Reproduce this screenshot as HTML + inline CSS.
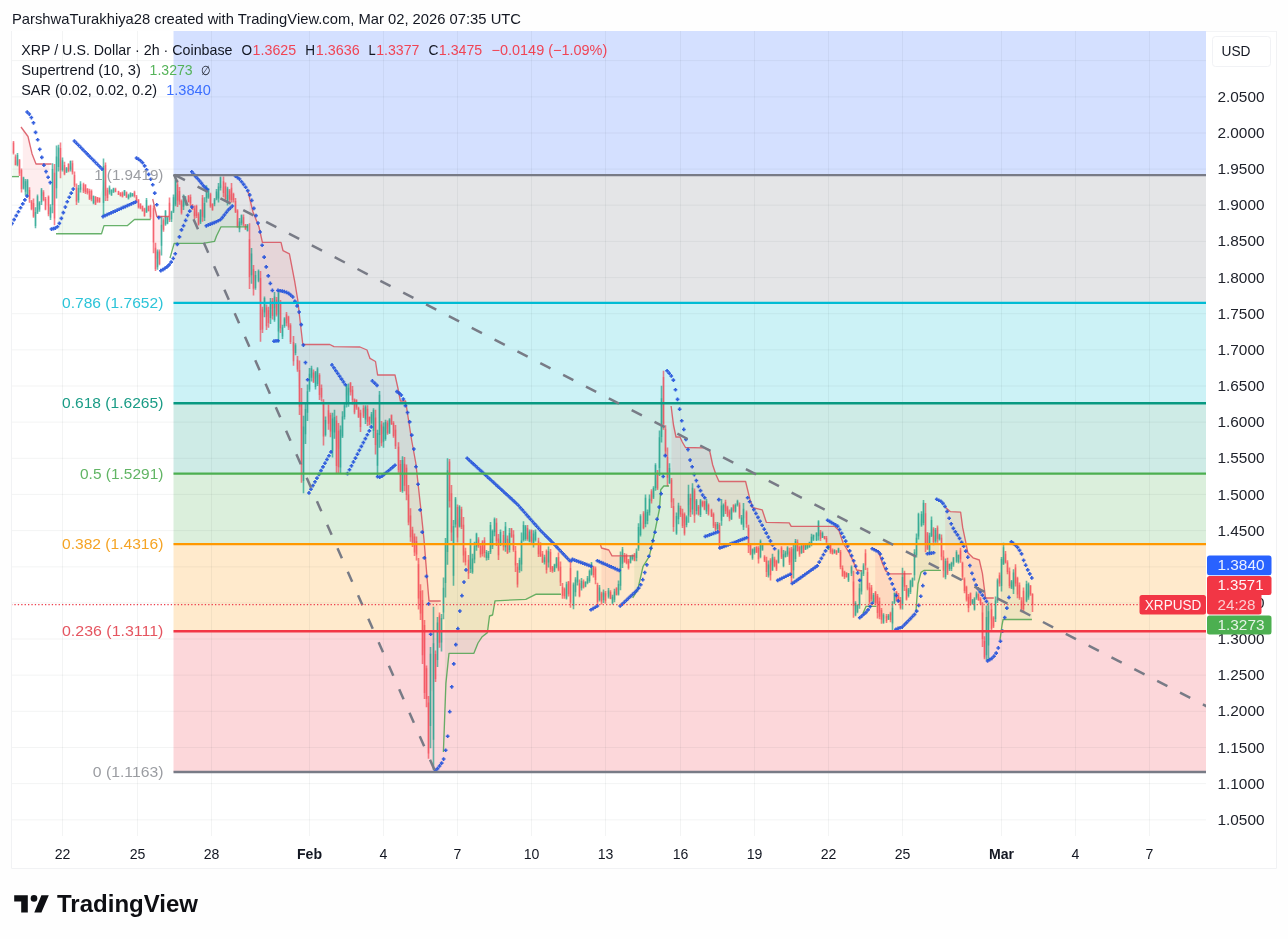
<!DOCTYPE html>
<html><head><meta charset="utf-8"><title>XRPUSD chart</title>
<style>html,body{margin:0;padding:0;background:#fefefe;}body{width:1288px;height:939px;position:relative;overflow:hidden;font-family:"Liberation Sans",sans-serif;}</style></head>
<body>
<svg width="1288" height="939" viewBox="0 0 1288 939" style="position:absolute;left:0;top:0;will-change:transform;font-family:'Liberation Sans',sans-serif">
<rect x="11" y="31" width="1265" height="837" fill="#ffffff"/>
<defs><clipPath id="pane"><rect x="11" y="31" width="1195" height="807"/></clipPath></defs>
<g clip-path="url(#pane)">
<rect x="173.5" y="31.00" width="1032.5" height="144.16" fill="#2962ff" fill-opacity="0.2"/>
<rect x="173.5" y="175.16" width="1032.5" height="127.75" fill="#787b86" fill-opacity="0.2"/>
<rect x="173.5" y="302.91" width="1032.5" height="100.28" fill="#00bcd4" fill-opacity="0.2"/>
<rect x="173.5" y="403.19" width="1032.5" height="70.42" fill="#089981" fill-opacity="0.2"/>
<rect x="173.5" y="473.61" width="1032.5" height="70.49" fill="#4caf50" fill-opacity="0.2"/>
<rect x="173.5" y="544.10" width="1032.5" height="87.12" fill="#ff9800" fill-opacity="0.2"/>
<rect x="173.5" y="631.22" width="1032.5" height="140.84" fill="#f23645" fill-opacity="0.2"/>
</g>
<path d="M62.5 31 V836 M137.5 31 V836 M211.5 31 V836 M309.5 31 V836 M383.5 31 V836 M457.5 31 V836 M531.5 31 V836 M605.5 31 V836 M680.5 31 V836 M754.5 31 V836 M828.5 31 V836 M902.5 31 V836 M1001.5 31 V836 M1075.5 31 V836 M1149.5 31 V836 M11 60.6 H1206 M11 96.8 H1206 M11 133.0 H1206 M11 169.1 H1206 M11 205.2 H1206 M11 241.4 H1206 M11 277.6 H1206 M11 313.7 H1206 M11 349.8 H1206 M11 386.0 H1206 M11 422.1 H1206 M11 458.3 H1206 M11 494.4 H1206 M11 530.6 H1206 M11 566.8 H1206 M11 602.9 H1206 M11 639.0 H1206 M11 675.2 H1206 M11 711.3 H1206 M11 747.5 H1206 M11 783.6 H1206 M11 819.8 H1206" stroke="#2a2e39" stroke-opacity="0.055" stroke-width="1" fill="none"/>
<g clip-path="url(#pane)">
<path d="M12.5 176.6 L14.6 176.6 L16.6 176.6 L18.7 176.6 L18.7 166.7 L16.6 159.8 L14.6 160.6 L12.5 147.9Z" fill="#4caf50" fill-opacity="0.09" stroke="none"/><path d="M57.8 233.7 L59.9 233.7 L61.9 233.7 L64.0 233.7 L66.0 233.7 L68.1 233.7 L70.2 233.7 L72.2 233.7 L74.3 233.7 L76.3 233.7 L78.4 233.7 L80.5 233.7 L82.5 233.7 L84.6 233.7 L86.6 233.7 L88.7 233.7 L90.7 233.7 L92.8 233.7 L94.9 233.7 L96.9 233.7 L99.0 233.7 L103.1 228.5 L105.2 225.6 L107.2 225.6 L109.3 225.6 L111.3 225.6 L113.4 225.6 L115.5 225.6 L117.5 225.6 L119.6 225.6 L121.6 225.6 L123.7 225.6 L125.7 225.6 L127.8 225.3 L129.9 223.5 L131.9 221.7 L134.0 219.9 L136.0 219.5 L138.1 219.5 L140.2 219.5 L142.2 219.5 L144.3 219.5 L146.3 219.5 L148.4 219.5 L150.5 219.5 L150.5 211.5 L148.4 208.5 L146.3 206.0 L144.3 212.3 L142.2 208.6 L140.2 206.0 L138.1 203.7 L136.0 198.9 L134.0 194.1 L131.9 195.0 L129.9 194.7 L127.8 196.8 L125.7 194.6 L123.7 192.7 L121.6 194.6 L119.6 194.3 L117.5 192.9 L115.5 190.3 L113.4 190.0 L111.3 192.4 L109.3 189.9 L107.2 193.9 L105.2 180.3 L103.1 184.6 L99.0 200.2 L96.9 199.4 L94.9 200.6 L92.8 199.5 L90.7 195.0 L88.7 194.9 L86.6 191.0 L84.6 188.4 L82.5 187.7 L80.5 186.7 L78.4 194.1 L76.3 194.5 L74.3 180.2 L72.2 167.7 L70.2 165.2 L68.1 167.5 L66.0 169.8 L64.0 169.7 L61.9 165.1 L59.9 159.1 L57.8 157.2Z" fill="#4caf50" fill-opacity="0.09" stroke="none"/><path d="M171.0 254.4 L173.1 247.2 L175.2 243.4 L177.2 243.4 L179.3 243.4 L181.3 243.4 L183.4 243.4 L185.5 243.4 L187.5 243.4 L189.6 243.4 L191.6 243.4 L193.7 243.4 L195.8 243.4 L197.8 243.4 L199.9 243.4 L201.9 243.4 L204.0 243.2 L206.1 242.8 L208.1 242.5 L210.2 242.1 L212.2 241.7 L214.3 241.4 L216.3 236.4 L218.4 232.1 L220.5 227.9 L222.5 226.8 L224.6 226.8 L226.6 226.8 L228.7 226.8 L230.8 226.8 L232.8 226.8 L234.9 226.8 L236.9 226.8 L239.0 226.8 L241.1 226.8 L243.1 226.8 L245.2 226.8 L247.2 226.8 L247.2 227.9 L245.2 226.9 L243.1 220.7 L241.1 219.2 L239.0 225.3 L236.9 218.4 L234.9 206.3 L232.8 197.1 L230.8 193.9 L228.7 195.1 L226.6 195.0 L224.6 192.6 L222.5 187.1 L220.5 182.7 L218.4 192.5 L216.3 195.1 L214.3 201.9 L212.2 206.9 L210.2 200.2 L208.1 194.1 L206.1 193.8 L204.0 210.4 L201.9 207.3 L199.9 216.3 L197.8 219.3 L195.8 211.0 L193.7 212.4 L191.6 207.1 L189.6 200.2 L187.5 198.9 L185.5 200.5 L183.4 201.3 L181.3 206.9 L179.3 196.2 L177.2 192.4 L175.2 192.3 L173.1 204.4 L171.0 215.3Z" fill="#4caf50" fill-opacity="0.09" stroke="none"/><path d="M444.9 711.0 L447.0 673.2 L449.0 653.3 L451.1 653.3 L453.1 653.3 L455.2 653.3 L457.2 653.3 L459.3 653.3 L461.4 653.3 L463.4 653.3 L465.5 653.3 L467.5 653.3 L469.6 653.3 L471.7 653.3 L473.7 653.3 L475.8 648.6 L477.8 643.4 L479.9 640.2 L482.0 637.1 L484.0 635.3 L486.1 633.6 L488.1 626.8 L490.2 615.8 L492.3 615.1 L494.3 604.9 L496.4 600.7 L498.4 600.6 L500.5 600.5 L502.5 600.4 L504.6 600.3 L506.7 600.2 L508.7 600.1 L510.8 600.0 L512.8 599.9 L514.9 599.8 L517.0 599.7 L519.0 599.6 L521.1 599.5 L523.1 599.4 L525.2 599.3 L527.3 598.6 L529.3 597.6 L531.4 596.6 L533.4 595.6 L535.5 594.5 L537.5 594.2 L539.6 594.2 L541.7 594.2 L543.7 594.2 L545.8 594.2 L547.8 594.2 L549.9 594.2 L552.0 594.2 L554.0 594.2 L556.1 594.2 L558.1 594.2 L560.2 594.2 L560.2 574.6 L558.1 563.4 L556.1 562.2 L554.0 567.6 L552.0 568.9 L549.9 560.8 L547.8 556.8 L545.8 560.5 L543.7 559.7 L541.7 557.9 L539.6 550.1 L537.5 547.5 L535.5 535.9 L533.4 538.8 L531.4 535.9 L529.3 536.5 L527.3 533.5 L525.2 532.7 L523.1 532.5 L521.1 552.4 L519.0 565.0 L517.0 575.6 L514.9 558.3 L512.8 542.2 L510.8 532.7 L508.7 541.5 L506.7 545.9 L504.6 536.8 L502.5 540.8 L500.5 538.5 L498.4 546.9 L496.4 531.9 L494.3 525.5 L492.3 538.7 L490.2 538.7 L488.1 555.4 L486.1 555.1 L484.0 546.7 L482.0 547.8 L479.9 550.2 L477.8 542.7 L475.8 540.3 L473.7 552.7 L471.7 565.4 L469.6 556.1 L467.5 566.7 L465.5 556.8 L463.4 540.1 L461.4 518.0 L459.3 516.4 L457.2 522.3 L455.2 511.5 L453.1 550.9 L451.1 512.9 L449.0 481.4 L447.0 511.0 L444.9 563.5Z" fill="#4caf50" fill-opacity="0.09" stroke="none"/><path d="M634.3 595.2 L636.4 591.8 L638.4 586.7 L640.5 577.6 L642.6 568.5 L644.6 564.0 L646.7 560.6 L648.7 557.2 L650.8 549.7 L652.9 540.7 L654.9 531.4 L657.0 521.3 L659.0 511.3 L661.1 489.3 L663.1 486.8 L665.2 486.0 L667.3 486.0 L667.3 467.4 L665.2 440.4 L663.1 400.4 L661.1 417.7 L659.0 452.6 L657.0 481.7 L654.9 476.4 L652.9 492.7 L650.8 496.2 L648.7 505.7 L646.7 516.4 L644.6 510.8 L642.6 520.7 L640.5 525.7 L638.4 537.9 L636.4 554.8 L634.3 557.4Z" fill="#4caf50" fill-opacity="0.09" stroke="none"/><path d="M864.9 608.9 L867.0 606.4 L869.0 606.4 L871.1 606.4 L873.2 606.4 L875.2 606.4 L875.2 597.6 L873.2 598.5 L871.1 593.5 L869.0 594.7 L867.0 580.2 L864.9 559.4Z" fill="#4caf50" fill-opacity="0.09" stroke="none"/><path d="M916.4 605.3 L918.5 582.0 L920.5 574.2 L922.6 571.4 L924.6 570.3 L926.7 570.3 L928.8 570.3 L930.8 570.3 L932.9 570.3 L934.9 570.3 L937.0 570.3 L939.1 570.3 L939.1 536.9 L937.0 533.1 L934.9 535.6 L932.9 535.3 L930.8 527.9 L928.8 542.9 L926.7 540.9 L924.6 528.8 L922.6 512.9 L920.5 519.8 L918.5 525.2 L916.4 546.5Z" fill="#4caf50" fill-opacity="0.09" stroke="none"/><path d="M1000.8 633.8 L1002.9 620.6 L1004.9 619.5 L1007.0 619.5 L1009.1 619.5 L1011.1 619.5 L1013.2 619.5 L1015.2 619.5 L1017.3 619.5 L1019.4 619.5 L1021.4 619.5 L1023.5 619.5 L1025.5 619.5 L1027.6 619.5 L1029.7 619.5 L1031.7 619.5 L1031.7 599.5 L1029.7 590.0 L1027.6 590.6 L1025.5 592.4 L1023.5 600.1 L1021.4 604.8 L1019.4 591.6 L1017.3 586.2 L1015.2 575.5 L1013.2 581.1 L1011.1 584.4 L1009.1 578.6 L1007.0 567.3 L1004.9 558.2 L1002.9 555.6 L1000.8 572.4Z" fill="#4caf50" fill-opacity="0.09" stroke="none"/><path d="M22.8 129.4 L24.9 132.2 L26.9 135.0 L29.0 140.7 L31.0 149.6 L33.1 156.5 L35.2 161.8 L37.2 164.0 L39.3 164.0 L41.3 164.0 L43.4 164.0 L45.4 164.0 L47.5 164.0 L49.6 164.0 L49.6 212.5 L47.5 205.5 L45.4 204.2 L43.4 196.1 L41.3 195.8 L39.3 206.0 L37.2 204.4 L35.2 218.9 L33.1 209.8 L31.0 205.3 L29.0 194.5 L26.9 187.8 L24.9 186.5 L22.8 183.1Z" fill="#f23645" fill-opacity="0.09" stroke="none"/><path d="M154.6 207.0 L156.6 215.8 L158.7 216.5 L160.8 216.5 L162.8 216.5 L164.9 216.5 L166.9 216.5 L169.0 216.5 L169.0 211.3 L166.9 220.5 L164.9 217.8 L162.8 224.9 L160.8 235.2 L158.7 257.7 L156.6 259.4 L154.6 258.3Z" fill="#f23645" fill-opacity="0.09" stroke="none"/><path d="M249.3 196.8 L251.3 205.2 L253.4 213.0 L255.5 218.2 L257.5 223.3 L259.6 229.6 L261.6 239.0 L263.7 242.4 L265.8 242.4 L267.8 242.4 L269.9 242.4 L271.9 242.4 L274.0 242.4 L276.1 242.4 L278.1 242.4 L280.2 242.4 L282.2 247.5 L284.3 251.3 L286.4 252.3 L288.4 253.3 L290.5 259.4 L292.5 270.0 L294.6 280.7 L296.6 293.1 L298.7 308.5 L300.8 326.7 L302.8 344.5 L304.9 344.5 L306.9 344.5 L309.0 344.5 L311.1 344.5 L313.1 344.5 L315.2 344.5 L317.2 344.5 L319.3 344.5 L321.4 344.5 L323.4 344.5 L325.5 344.5 L327.5 344.5 L329.6 344.5 L331.6 345.4 L333.7 346.5 L335.8 346.6 L337.8 346.7 L339.9 346.7 L341.9 346.7 L344.0 346.8 L346.1 346.8 L348.1 346.8 L350.2 346.8 L352.2 346.9 L354.3 346.9 L356.4 346.9 L358.4 347.0 L360.5 347.2 L362.5 348.1 L364.6 349.0 L366.7 349.9 L368.7 354.8 L370.8 358.8 L372.8 360.0 L374.9 361.2 L376.9 370.8 L379.0 375.0 L381.1 375.0 L383.1 375.0 L385.2 375.0 L387.2 375.0 L389.3 375.0 L391.4 375.0 L393.4 375.0 L395.5 377.2 L397.5 386.4 L399.6 396.8 L401.7 401.0 L403.7 401.0 L405.8 402.1 L407.8 415.5 L409.9 428.9 L411.9 441.9 L414.0 453.2 L416.1 465.5 L418.1 484.3 L420.2 503.1 L422.2 522.6 L424.3 543.4 L426.4 569.1 L428.4 594.1 L430.5 601.0 L432.5 601.0 L434.6 601.0 L436.7 601.0 L438.7 601.0 L438.7 629.1 L436.7 641.2 L434.6 666.4 L432.5 691.5 L430.5 689.9 L428.4 728.0 L426.4 683.6 L424.3 659.0 L422.2 627.6 L420.2 602.3 L418.1 581.3 L416.1 547.7 L414.0 544.5 L411.9 536.2 L409.9 526.3 L407.8 508.5 L405.8 481.4 L403.7 474.8 L401.7 475.4 L399.6 477.1 L397.5 458.4 L395.5 438.1 L393.4 429.5 L391.4 419.6 L389.3 426.1 L387.2 428.0 L385.2 430.5 L383.1 434.1 L381.1 433.8 L379.0 414.9 L376.9 449.4 L374.9 431.3 L372.8 420.5 L370.8 418.6 L368.7 420.9 L366.7 415.4 L364.6 413.1 L362.5 412.3 L360.5 419.8 L358.4 412.5 L356.4 403.7 L354.3 406.1 L352.2 394.8 L350.2 387.6 L348.1 395.4 L346.1 395.2 L344.0 411.4 L341.9 426.5 L339.9 448.6 L337.8 449.0 L335.8 443.2 L333.7 424.7 L331.6 434.6 L329.6 423.2 L327.5 416.9 L325.5 427.5 L323.4 419.8 L321.4 392.7 L319.3 385.0 L317.2 376.2 L315.2 379.7 L313.1 377.1 L311.1 373.0 L309.0 381.5 L306.9 402.0 L304.9 421.6 L302.8 453.8 L300.8 433.7 L298.7 388.3 L296.6 364.6 L294.6 349.1 L292.5 351.6 L290.5 333.6 L288.4 322.2 L286.4 318.8 L284.3 322.3 L282.2 332.0 L280.2 315.5 L278.1 312.4 L276.1 307.3 L274.0 308.3 L271.9 308.6 L269.9 309.6 L267.8 316.6 L265.8 317.0 L263.7 305.2 L261.6 319.4 L259.6 304.0 L257.5 275.8 L255.5 281.5 L253.4 279.0 L251.3 264.4 L249.3 258.2Z" fill="#f23645" fill-opacity="0.09" stroke="none"/><path d="M601.4 547.6 L603.4 548.5 L605.5 549.1 L607.6 549.7 L609.6 551.5 L611.7 555.2 L613.7 555.8 L615.8 555.8 L617.9 555.8 L619.9 555.8 L622.0 555.8 L624.0 555.8 L626.1 555.8 L628.1 555.8 L630.2 555.8 L632.3 555.8 L634.3 555.8 L634.3 557.4 L632.3 557.1 L630.2 559.4 L628.1 564.4 L626.1 559.4 L624.0 558.6 L622.0 556.6 L619.9 571.4 L617.9 589.2 L615.8 591.6 L613.7 595.6 L611.7 599.9 L609.6 595.4 L607.6 593.7 L605.5 597.0 L603.4 596.3 L601.4 597.4Z" fill="#f23645" fill-opacity="0.09" stroke="none"/><path d="M671.4 408.2 L673.4 424.5 L675.5 434.6 L677.6 437.0 L679.6 437.0 L681.7 440.7 L683.7 444.5 L685.8 447.5 L687.9 447.5 L689.9 447.6 L692.0 447.6 L694.0 447.6 L696.1 447.7 L698.2 447.7 L700.2 447.7 L702.3 447.8 L704.3 447.9 L706.4 448.8 L708.4 449.6 L710.5 454.7 L712.6 464.4 L714.6 470.7 L716.7 476.2 L718.7 480.9 L720.8 481.5 L722.9 481.5 L724.9 481.5 L727.0 481.5 L729.0 481.5 L731.1 481.5 L733.2 481.5 L735.2 481.5 L737.3 481.5 L739.3 481.5 L741.4 481.5 L743.4 481.5 L745.5 481.5 L747.6 489.6 L749.6 498.1 L751.7 504.4 L753.7 507.9 L755.8 508.4 L757.9 508.8 L759.9 509.3 L762.0 509.8 L764.0 515.4 L766.1 521.7 L768.2 522.3 L770.2 522.4 L772.3 522.5 L774.3 522.5 L776.4 522.6 L778.5 522.6 L780.5 522.7 L782.6 522.7 L784.6 522.8 L786.7 522.8 L788.7 522.9 L790.8 525.7 L792.9 526.4 L794.9 526.4 L797.0 526.4 L799.0 526.4 L801.1 526.4 L803.2 526.4 L805.2 526.4 L807.3 526.4 L809.3 526.4 L811.4 526.4 L813.5 526.4 L815.5 526.4 L817.6 526.4 L819.6 526.4 L821.7 526.4 L823.8 526.4 L825.8 526.4 L827.9 526.4 L829.9 526.4 L832.0 526.4 L834.0 526.4 L836.1 527.7 L838.2 529.8 L840.2 534.3 L842.3 540.5 L844.3 545.0 L846.4 548.3 L848.5 551.6 L850.5 555.7 L852.6 559.8 L854.6 565.0 L856.7 570.0 L858.8 570.4 L860.8 570.8 L860.8 581.9 L858.8 596.8 L856.7 608.4 L854.6 609.1 L852.6 593.8 L850.5 570.1 L848.5 577.0 L846.4 575.0 L844.3 574.4 L842.3 571.9 L840.2 559.5 L838.2 550.4 L836.1 552.6 L834.0 551.6 L832.0 552.0 L829.9 548.5 L827.9 546.8 L825.8 540.0 L823.8 537.7 L821.7 535.4 L819.6 535.8 L817.6 528.8 L815.5 536.7 L813.5 537.4 L811.4 540.4 L809.3 544.9 L807.3 546.2 L805.2 547.1 L803.2 548.5 L801.1 549.6 L799.0 550.7 L797.0 546.6 L794.9 550.0 L792.9 559.3 L790.8 563.4 L788.7 557.0 L786.7 551.0 L784.6 554.7 L782.6 560.0 L780.5 552.6 L778.5 556.6 L776.4 565.4 L774.3 562.3 L772.3 563.6 L770.2 567.7 L768.2 570.1 L766.1 566.3 L764.0 558.6 L762.0 546.8 L759.9 549.1 L757.9 553.6 L755.8 549.5 L753.7 550.6 L751.7 553.9 L749.6 549.7 L747.6 537.0 L745.5 518.2 L743.4 518.1 L741.4 520.5 L739.3 511.0 L737.3 503.1 L735.2 508.4 L733.2 508.2 L731.1 513.8 L729.0 515.1 L727.0 511.5 L724.9 506.6 L722.9 510.5 L720.8 513.1 L718.7 534.7 L716.7 526.5 L714.6 526.8 L712.6 520.0 L710.5 513.3 L708.4 509.6 L706.4 506.4 L704.3 505.4 L702.3 503.8 L700.2 507.7 L698.2 510.5 L696.1 505.7 L694.0 503.1 L692.0 498.7 L689.9 505.0 L687.9 504.7 L685.8 521.2 L683.7 523.8 L681.7 519.8 L679.6 511.2 L677.6 512.4 L675.5 524.9 L673.4 516.4 L671.4 491.0Z" fill="#f23645" fill-opacity="0.09" stroke="none"/><path d="M875.2 549.4 L877.3 550.6 L879.3 554.1 L881.4 560.2 L883.5 565.8 L885.5 570.6 L887.6 572.3 L889.6 573.6 L891.7 573.8 L893.8 573.8 L895.8 573.8 L897.9 573.8 L899.9 573.8 L902.0 573.8 L904.1 573.8 L906.1 573.8 L908.2 573.8 L910.2 573.8 L910.2 586.6 L908.2 592.7 L906.1 594.1 L904.1 579.8 L902.0 590.4 L899.9 603.9 L897.9 598.4 L895.8 596.1 L893.8 598.1 L891.7 615.7 L889.6 616.6 L887.6 617.5 L885.5 618.6 L883.5 618.8 L881.4 614.9 L879.3 609.0 L877.3 604.4 L875.2 597.6Z" fill="#f23645" fill-opacity="0.09" stroke="none"/><path d="M945.2 507.2 L947.3 509.0 L949.3 510.8 L951.4 511.7 L953.5 511.8 L955.5 511.9 L957.6 512.0 L959.6 512.1 L961.7 520.3 L963.8 532.7 L965.8 542.4 L967.9 552.8 L969.9 554.8 L972.0 556.8 L974.1 558.2 L976.1 558.9 L978.2 559.6 L980.2 564.0 L982.3 572.9 L984.4 588.8 L986.4 598.0 L988.5 598.0 L990.5 598.0 L992.6 598.0 L992.6 621.9 L990.5 619.0 L988.5 628.3 L986.4 636.1 L984.4 649.3 L982.3 625.9 L980.2 601.5 L978.2 597.3 L976.1 595.7 L974.1 604.0 L972.0 601.8 L969.9 598.5 L967.9 602.4 L965.8 593.4 L963.8 585.2 L961.7 570.0 L959.6 554.8 L957.6 558.5 L955.5 556.8 L953.5 561.4 L951.4 566.0 L949.3 566.5 L947.3 567.3 L945.2 569.2Z" fill="#f23645" fill-opacity="0.09" stroke="none"/>
<path d="M13.5 141.0V154.4M15.5 154.4V165.6M19.5 158.9V176.0M21.5 168.6V192.4M29.5 187.2V202.8M31.5 199.9V210.3M33.5 198.4V217.7M43.5 190.2V201.3M45.5 196.9V210.3M48.5 195.4V216.2M54.5 164.1V225.2M60.5 142.5V178.2M64.5 161.8V175.3M68.5 163.3V172.3M72.5 160.4V174.5M74.5 171.5V187.2M76.5 183.5V205.1M83.5 182.7V193.1M85.5 184.2V193.9M87.5 187.9V194.6M89.5 188.7V199.9M91.5 189.4V201.3M95.5 196.1V205.1M97.5 196.9V202.8M99.5 197.6V202.8M105.5 162.4V201.1M107.5 187.7V201.1M115.5 187.7V192.2M118.5 190.7V195.1M120.5 192.2V196.6M122.5 191.4V197.4M126.5 191.4V198.1M134.5 190.7V197.4M136.5 195.1V202.6M138.5 198.9V208.6M140.5 203.3V209.3M142.5 205.6V211.5M144.5 207.8V216.8M148.5 205.6V211.5M150.5 204.8V219.0M153.5 205.6V253.3M155.5 242.8V271.1M159.5 249.5V265.2M163.5 218.2V231.7M169.5 197.4V222.0M177.5 180.2V207.1M179.5 186.9V204.8M181.5 199.6V214.5M188.5 195.1V202.6M190.5 194.4V206.3M192.5 204.1V210.0M194.5 205.6V219.0M196.5 204.7V218.1M198.5 212.2V225.6M202.5 195.0V221.8M210.5 192.8V207.7M212.5 203.2V210.7M223.5 176.4V197.3M225.5 182.4V201.7M229.5 189.1V202.5M231.5 183.1V202.5M233.5 192.8V202.5M235.5 198.0V212.9M237.5 209.2V227.8M243.5 214.4V226.3M245.5 224.1V230.0M249.5 223.3V288.9M253.5 265.1V295.6M260.5 271.1V341.8M262.5 306.8V332.9M266.5 304.6V329.9M268.5 306.8V327.7M272.5 297.9V319.5M276.5 297.1V316.5M280.5 300.1V332.9M286.5 312.0V326.2M288.5 315.8V329.9M290.5 323.2V344.1M293.5 335.9V365.7M297.5 356.1V371.7M299.5 360.5V414.9M301.5 388.1V482.7M313.5 369.5V382.9M319.5 373.2V400.0M321.5 384.4V401.5M323.5 399.3V445.5M328.5 404.5V429.8M330.5 412.7V437.3M336.5 415.7V473.8M338.5 423.1V473.0M350.5 382.1V395.6M352.5 385.9V404.5M354.5 398.5V414.2M356.5 399.3V409.7M358.5 406.7V417.9M360.5 409.7V432.1M363.5 405.2V417.9M367.5 405.2V426.1M369.5 416.4V425.4M375.5 409.7V454.4M381.5 420.9V446.2M387.5 420.6V434.7M391.5 414.6V425.0M393.5 421.3V437.7M395.5 425.0V448.9M398.5 442.2V472.7M400.5 460.0V492.1M404.5 457.1V491.3M406.5 464.5V500.3M408.5 485.1V525.3M410.5 508.2V541.7M412.5 526.8V546.9M414.5 533.5V555.9M416.5 536.5V560.4M418.5 558.1V609.5M420.5 584.2V620.0M422.5 590.3V664.1M424.5 620.1V699.1M426.5 665.6V707.3M428.5 696.1V758.7M435.5 650.6V681.9M439.5 612.6V647.7M449.5 459.0V507.5M451.5 485.1V541.0M457.5 504.5V542.5M461.5 506.7V529.1M463.5 517.1V562.6M465.5 547.7V565.6M468.5 555.1V579.0M478.5 537.3V547.7M480.5 543.2V557.4M482.5 540.2V556.6M484.5 537.3V557.4M496.5 518.3V545.9M498.5 534.0V560.0M503.5 531.0V550.4M507.5 535.5V554.1M511.5 528.0V537.7M513.5 530.2V551.8M515.5 545.9V572.0M517.5 563.0V587.6M527.5 525.0V540.7M531.5 529.5V542.9M538.5 537.7V557.1M540.5 542.2V557.1M542.5 551.1V563.0M546.5 549.6V573.5M550.5 548.9V572.0M552.5 566.0V572.7M558.5 552.6V571.2M560.5 561.5V586.1M562.5 583.1V598.8M564.5 587.6V598.8M568.5 580.9V596.6M570.5 561.5V607.7M579.5 579.4V597.3M583.5 579.4V588.4M593.5 565.7V577.6M595.5 566.4V584.3M597.5 582.8V604.4M601.5 591.8V604.4M605.5 591.0V603.7M610.5 590.3V599.2M616.5 587.3V595.5M624.5 553.0V562.7M626.5 553.8V564.2M628.5 559.0V569.4M634.5 553.0V561.2M643.5 511.3V529.2M651.5 489.3V503.5M657.5 469.9V490.0M663.5 370.8V429.7M665.5 425.2V455.8M667.5 447.6V486.3M671.5 478.1V507.9M673.5 498.2V531.8M680.5 505.7V516.9M682.5 508.7V528.0M684.5 512.4V535.5M690.5 493.8V516.9M694.5 488.6V522.8M698.5 504.9V515.4M702.5 500.5V507.2M704.5 500.5V510.2M708.5 503.5V515.4M711.5 508.7V516.9M713.5 512.4V528.0M715.5 522.1V531.0M719.5 522.8V546.7M725.5 499.7V513.9M727.5 505.7V516.9M729.5 509.4V521.3M733.5 504.2V512.4M739.5 502.4V518.7M746.5 510.6V527.7M748.5 524.7V553.0M750.5 543.3V555.3M756.5 546.3V553.0M758.5 546.3V563.5M764.5 555.3V562.0M766.5 556.8V576.9M770.5 558.2V580.6M774.5 556.8V567.2M776.5 559.7V570.9M781.5 546.3V559.0M789.5 547.8V564.9M791.5 547.1V582.8M797.5 539.6V551.5M799.5 545.6V556.8M803.5 544.1V553.0M820.5 529.9V541.1M824.5 535.9V539.6M826.5 535.9V544.1M830.5 543.3V553.8M832.5 548.6V554.5M836.5 549.9V555.1M840.5 549.9V569.3M842.5 565.6V576.8M844.5 570.8V579.0M846.5 572.3V577.5M853.5 570.8V617.7M865.5 549.2V570.0M867.5 567.8V590.2M869.5 582.7V604.3M871.5 584.9V601.3M875.5 590.9V604.3M877.5 593.9V618.5M879.5 597.6V619.2M881.5 608.0V623.7M886.5 614.0V623.0M890.5 611.8V622.2M896.5 590.9V601.3M898.5 593.1V602.8M900.5 596.9V609.5M904.5 570.8V590.9M906.5 584.9V600.6M925.5 503.0V552.2M927.5 532.0V549.9M933.5 527.2V545.3M937.5 525.5V542.8M941.5 534.6V560.2M943.5 550.3V577.5M947.5 557.7V575.1M960.5 547.8V562.7M962.5 561.8V580.0M964.5 577.5V593.2M966.5 585.8V601.5M968.5 594.0V612.2M970.5 592.4V605.6M978.5 593.2V600.7M980.5 597.3V604.8M982.5 602.3V646.9M984.5 636.2V659.3M991.5 603.1V631.2M993.5 616.3V627.9M999.5 572.6V586.6M1005.5 551.1V563.5M1007.5 560.2V574.2M1009.5 567.6V588.3M1015.5 564.3V586.6M1017.5 576.7V598.2M1019.5 582.5V599.8M1021.5 597.3V612.2M1023.5 587.4V611.4M1030.5 585.0V595.7M1032.5 593.3V612.0" stroke="#f23645" stroke-width="1.6" stroke-opacity="0.62" fill="none"/><path d="M17.5 152.9V166.3M23.5 176.8V189.4M25.5 179.0V195.4M27.5 179.0V196.9M35.5 207.3V228.2M37.5 194.6V214.0M39.5 201.3V211.8M41.5 187.9V205.1M50.5 204.3V220.0M52.5 163.3V213.3M56.5 145.5V198.4M58.5 144.7V171.5M62.5 157.4V171.5M66.5 167.1V173.0M70.5 160.4V171.5M78.5 184.9V202.8M80.5 181.2V192.4M93.5 195.4V204.3M103.5 158.6V216.0M109.5 185.5V194.4M111.5 189.2V195.9M113.5 187.7V192.9M124.5 189.9V195.9M128.5 193.7V199.6M130.5 192.2V197.4M132.5 192.9V196.6M146.5 198.1V213.0M157.5 249.5V269.7M161.5 216.0V255.5M165.5 210.0V225.7M167.5 216.8V224.2M171.5 210.8V222.0M173.5 194.4V213.0M175.5 175.0V206.3M183.5 194.4V210.0M185.5 195.9V205.6M200.5 209.2V224.1M204.5 197.3V221.1M206.5 185.3V202.5M208.5 188.3V198.7M214.5 198.0V206.2M216.5 189.1V200.2M218.5 183.1V202.5M220.5 176.4V190.6M227.5 186.8V205.5M239.5 218.1V232.3M241.5 214.4V225.6M247.5 224.1V231.5M251.5 247.9V283.7M255.5 271.1V289.7M258.5 269.5V282.2M264.5 296.4V317.3M270.5 297.9V324.0M274.5 291.9V321.7M278.5 290.4V342.6M282.5 324.7V338.9M284.5 317.3V327.7M295.5 343.3V355.3M303.5 415.7V493.2M305.5 403.0V444.0M307.5 384.4V420.9M309.5 368.0V391.8M311.5 365.7V381.4M315.5 371.0V389.6M317.5 367.2V385.9M325.5 416.4V436.5M332.5 412.7V457.4M334.5 409.7V438.8M340.5 425.4V473.0M342.5 411.2V438.0M344.5 403.0V419.4M346.5 384.4V407.5M348.5 383.6V406.7M365.5 405.2V423.9M371.5 411.9V424.6M373.5 408.2V438.0M377.5 429.8V476.0M379.5 391.1V447.7M383.5 422.4V447.7M385.5 419.8V440.7M389.5 418.3V434.0M402.5 456.3V492.8M430.5 646.9V748.3M433.5 606.7V769.9M437.5 617.1V667.0M441.5 614.1V651.4M443.5 577.5V619.2M445.5 538.0V597.6M447.5 458.3V564.8M453.5 520.1V585.7M455.5 497.0V527.6M459.5 505.2V527.6M470.5 538.7V573.0M472.5 553.7V573.8M474.5 541.7V563.3M476.5 532.8V550.7M486.5 549.9V560.4M488.5 551.0V559.9M490.5 522.0V554.1M492.5 529.5V548.9M494.5 517.6V536.2M500.5 529.5V545.9M505.5 522.0V551.8M509.5 528.0V552.6M519.5 557.8V572.7M521.5 532.5V571.2M523.5 521.3V541.4M525.5 525.0V540.7M529.5 529.5V542.2M533.5 530.2V547.4M535.5 529.5V541.4M544.5 554.8V564.5M548.5 546.6V567.5M554.5 563.8V572.0M556.5 557.1V568.2M566.5 581.7V599.5M573.5 582.4V609.2M575.5 577.2V596.6M577.5 570.5V585.4M581.5 577.9V590.6M585.5 581.3V587.3M587.5 576.1V584.3M589.5 569.4V582.8M591.5 562.0V575.4M599.5 585.1V601.5M603.5 589.5V603.0M608.5 588.0V598.5M612.5 594.8V604.4M614.5 588.8V602.2M618.5 580.6V595.5M620.5 551.5V590.3M622.5 547.1V567.9M630.5 555.3V563.5M632.5 554.5V560.5M636.5 548.6V561.2M638.5 523.2V550.8M640.5 514.3V536.6M645.5 494.5V527.3M647.5 509.4V524.3M649.5 494.5V515.4M653.5 486.3V499.0M655.5 463.2V490.8M659.5 430.4V475.9M661.5 385.7V442.4M669.5 463.2V484.1M676.5 512.4V534.8M678.5 502.7V524.3M686.5 515.4V527.3M688.5 484.8V522.8M692.5 483.3V514.6M696.5 499.0V514.6M700.5 499.0V516.9M706.5 499.0V513.9M717.5 522.1V530.3M721.5 499.0V525.8M723.5 503.5V516.9M731.5 507.2V519.9M735.5 503.5V512.4M737.5 499.7V506.4M741.5 515.0V524.7M743.5 503.1V529.9M752.5 548.6V559.7M754.5 547.1V554.5M760.5 539.6V558.2M762.5 543.3V550.8M768.5 560.5V577.6M772.5 553.8V570.9M778.5 549.3V563.5M783.5 550.0V567.2M785.5 550.8V557.5M787.5 546.3V556.8M793.5 544.1V578.4M795.5 538.9V562.0M801.5 544.1V553.8M805.5 543.3V550.0M807.5 543.3V549.3M809.5 541.8V547.8M811.5 533.7V546.3M813.5 534.4V541.1M816.5 532.2V541.1M818.5 520.2V540.4M822.5 531.4V538.1M828.5 543.3V550.0M834.5 549.3V553.8M838.5 547.7V552.9M848.5 573.0V582.0M851.5 565.6V576.0M855.5 601.3V616.2M857.5 604.3V613.3M859.5 583.5V608.8M861.5 570.0V594.6M863.5 563.3V576.0M873.5 593.1V602.8M883.5 613.3V623.7M888.5 614.0V620.0M892.5 601.3V630.4M894.5 592.4V604.3M902.5 567.8V609.5M908.5 587.9V597.6M910.5 579.7V593.9M912.5 577.5V587.2M914.5 549.2V580.5M916.5 533.5V557.4M918.5 512.7V539.5M921.5 511.2V526.8M923.5 500.0V525.3M929.5 532.8V553.7M931.5 516.4V537.1M935.5 528.0V542.8M939.5 533.8V540.4M945.5 558.5V579.2M949.5 563.5V570.9M951.5 561.8V570.9M953.5 556.9V566.8M956.5 550.3V562.7M958.5 554.4V563.5M972.5 599.0V604.8M974.5 597.3V610.6M976.5 591.6V599.8M986.5 605.6V660.4M988.5 602.5V660.6M995.5 596.5V622.1M997.5 578.4V603.1M1001.5 556.9V591.6M1003.5 542.8V565.1M1011.5 580.0V589.1M1013.5 569.3V594.0M1026.5 580.8V602.3M1028.5 582.5V599.8" stroke="#089981" stroke-width="1.6" stroke-opacity="0.62" fill="none"/><path d="M13.5 142.5V153.3M15.5 156.4V164.9M19.5 159.9V173.4M21.5 169.9V189.1M29.5 189.9V199.1M31.5 201.6V208.9M33.5 203.1V216.6M43.5 192.2V199.9M45.5 199.0V209.4M48.5 196.7V214.3M54.5 172.7V218.5M60.5 148.0V170.2M64.5 165.1V174.3M68.5 164.1V171.0M72.5 163.2V172.2M74.5 175.1V185.4M76.5 187.5V201.4M83.5 184.2V191.2M85.5 184.8V192.0M87.5 189.1V193.0M89.5 191.1V198.7M91.5 190.9V199.2M95.5 196.9V204.4M97.5 197.2V201.6M99.5 198.0V202.3M105.5 164.9V195.7M107.5 189.8V198.1M115.5 188.8V191.8M118.5 191.1V194.7M120.5 192.6V196.0M122.5 192.4V196.8M126.5 192.2V197.0M134.5 192.2V196.0M136.5 196.8V201.0M138.5 200.1V207.3M140.5 203.8V208.2M142.5 205.9V211.2M144.5 208.6V216.0M148.5 205.9V211.1M150.5 205.8V217.2M153.5 208.2V242.5M155.5 247.7V268.9M159.5 251.5V264.0M163.5 220.2V229.7M169.5 202.7V219.9M177.5 184.4V200.5M179.5 190.9V201.4M181.5 201.1V212.7M188.5 196.0V201.9M190.5 196.9V203.4M192.5 205.4V208.8M194.5 208.4V216.3M196.5 206.0V216.1M198.5 213.8V224.8M202.5 197.8V216.8M210.5 194.2V206.3M212.5 203.9V210.0M223.5 181.2V193.0M225.5 186.2V198.9M229.5 190.6V199.7M231.5 187.8V200.0M233.5 194.0V200.2M235.5 200.9V211.7M237.5 210.6V226.3M243.5 217.3V224.2M245.5 224.8V229.1M249.5 239.3V277.1M253.5 269.2V288.8M260.5 278.0V330.0M262.5 309.5V329.4M266.5 307.6V326.3M268.5 310.3V322.9M272.5 301.1V316.1M276.5 299.8V314.8M280.5 302.9V328.2M286.5 314.3V323.3M288.5 316.8V327.6M290.5 325.3V341.9M293.5 342.0V361.2M297.5 359.7V369.5M299.5 369.9V406.7M301.5 402.5V464.9M313.5 372.4V381.8M319.5 374.9V395.1M321.5 387.9V397.6M323.5 403.0V436.6M328.5 410.2V423.7M330.5 415.0V431.4M336.5 420.5V465.9M338.5 430.8V467.2M350.5 383.0V392.2M352.5 389.7V399.9M354.5 399.6V412.6M356.5 399.9V407.6M358.5 407.9V417.1M360.5 412.7V426.9M363.5 407.9V416.6M367.5 408.7V422.1M369.5 417.0V424.8M375.5 417.6V445.0M381.5 424.5V443.2M387.5 422.8V433.3M391.5 415.2V424.1M393.5 423.1V435.9M395.5 429.8V446.3M398.5 446.7V470.1M400.5 463.9V490.4M404.5 463.8V485.8M406.5 467.7V495.1M408.5 494.6V522.5M410.5 515.4V537.2M412.5 529.8V542.6M414.5 536.4V552.5M416.5 541.0V554.5M418.5 564.2V598.4M420.5 591.0V613.6M422.5 600.0V655.2M424.5 624.9V693.1M426.5 668.2V699.0M428.5 702.4V753.5M435.5 654.0V678.9M439.5 615.5V642.8M449.5 461.4V501.3M451.5 493.2V532.6M457.5 507.1V537.5M461.5 509.2V526.9M463.5 524.7V555.5M465.5 551.3V562.3M468.5 559.7V573.6M478.5 539.6V545.9M480.5 546.0V554.4M482.5 541.5V554.1M484.5 540.3V553.0M496.5 522.8V541.0M498.5 538.5V555.2M503.5 535.0V546.5M507.5 538.8V552.9M511.5 528.6V536.7M513.5 534.5V549.9M515.5 551.0V565.6M517.5 566.7V584.5M527.5 528.1V538.9M531.5 530.3V541.5M538.5 540.7V554.3M540.5 544.3V556.0M542.5 553.8V562.0M546.5 550.9V570.1M550.5 552.1V569.6M552.5 566.6V571.1M558.5 557.1V569.8M560.5 566.8V582.4M562.5 586.7V595.8M564.5 588.7V596.2M568.5 581.7V594.2M570.5 568.0V602.6M579.5 583.3V596.0M583.5 581.5V587.4M593.5 566.5V575.0M595.5 568.4V580.1M597.5 585.0V602.2M601.5 593.4V601.4M605.5 593.3V600.7M610.5 592.0V598.7M616.5 588.2V595.0M624.5 555.4V561.7M626.5 555.7V563.1M628.5 560.7V568.1M634.5 554.3V560.5M643.5 513.4V528.0M651.5 491.2V501.3M657.5 474.8V488.5M663.5 377.0V423.8M665.5 429.2V451.5M667.5 456.9V477.8M671.5 479.8V502.2M673.5 505.9V526.9M680.5 508.1V514.4M682.5 513.4V526.1M684.5 514.1V533.6M690.5 497.9V512.2M694.5 490.5V515.8M698.5 506.8V514.2M702.5 501.7V505.9M704.5 501.2V509.5M708.5 505.0V514.3M711.5 510.1V516.4M713.5 514.1V525.8M715.5 524.2V529.4M719.5 525.1V544.3M725.5 501.9V511.3M727.5 507.2V515.7M729.5 511.6V518.5M733.5 505.2V511.3M739.5 504.8V517.3M746.5 512.2V524.2M748.5 527.8V546.2M750.5 545.1V554.2M756.5 546.9V552.2M758.5 547.9V559.3M764.5 556.8V560.4M766.5 560.7V571.9M770.5 560.2V575.3M774.5 558.7V565.9M776.5 561.1V569.6M781.5 547.7V557.5M789.5 551.5V562.6M791.5 549.2V577.7M797.5 542.3V550.9M799.5 547.1V554.4M803.5 544.6V552.5M820.5 532.5V539.1M824.5 536.2V539.1M826.5 537.9V542.1M830.5 544.8V552.2M832.5 550.0V554.0M836.5 551.0V554.1M840.5 552.1V566.9M842.5 567.9V576.0M844.5 571.5V577.3M846.5 572.8V577.2M853.5 581.4V606.1M865.5 553.3V565.5M867.5 571.9V588.5M869.5 587.4V602.0M871.5 587.6V599.3M875.5 592.2V603.0M877.5 595.9V612.9M879.5 601.2V616.7M881.5 610.1V619.8M886.5 615.9V621.3M890.5 613.3V620.0M896.5 591.7V600.4M898.5 595.5V601.2M900.5 599.9V608.0M904.5 572.8V586.8M906.5 588.7V599.5M925.5 513.3V544.3M927.5 533.2V548.7M933.5 528.7V541.9M937.5 527.4V538.7M941.5 537.7V556.8M943.5 556.4V570.7M947.5 561.1V573.5M960.5 550.5V559.2M962.5 563.1V576.8M964.5 579.5V590.9M966.5 587.0V599.8M968.5 596.8V607.9M970.5 593.3V603.7M978.5 594.3V600.2M980.5 599.1V603.8M982.5 612.6V639.1M984.5 641.1V657.4M991.5 609.2V628.8M993.5 617.4V626.4M999.5 575.3V583.4M1005.5 553.8V562.6M1007.5 562.6V572.0M1009.5 571.2V586.0M1015.5 567.4V583.5M1017.5 577.9V594.4M1019.5 585.1V598.1M1021.5 600.4V609.2M1023.5 590.8V609.3M1030.5 585.7V594.2M1032.5 594.0V605.0" stroke="#f23645" stroke-width="1.6" stroke-opacity="0.4" fill="none"/><path d="M17.5 155.0V164.7M23.5 177.6V188.6M25.5 181.2V191.8M27.5 180.3V195.2M35.5 211.9V225.9M37.5 196.2V212.6M39.5 202.5V209.5M41.5 189.4V202.2M50.5 207.2V217.8M52.5 169.0V204.9M56.5 156.5V188.3M58.5 147.4V167.1M62.5 160.2V170.0M66.5 167.9V171.8M70.5 161.0V169.5M78.5 187.9V200.3M80.5 183.7V189.7M93.5 195.9V203.0M103.5 166.0V203.1M109.5 187.4V192.4M111.5 189.9V195.0M113.5 188.3V191.7M124.5 190.2V195.1M128.5 195.1V198.5M130.5 193.0V196.5M132.5 193.6V196.4M146.5 199.9V212.1M157.5 251.6V267.3M161.5 224.7V245.7M165.5 211.1V224.6M167.5 217.6V223.4M171.5 211.4V219.3M173.5 197.3V211.5M175.5 180.0V204.6M183.5 195.7V206.8M185.5 197.4V203.6M200.5 210.0V222.5M204.5 203.0V217.8M206.5 189.4V198.2M208.5 190.8V197.5M214.5 199.4V204.3M216.5 191.5V198.6M218.5 186.6V198.4M220.5 177.3V188.0M227.5 188.4V201.6M239.5 221.4V229.3M241.5 215.3V223.2M247.5 224.7V231.1M251.5 253.5V275.2M255.5 275.1V288.0M258.5 270.8V280.8M264.5 298.0V312.4M270.5 301.4V317.9M274.5 296.5V320.1M278.5 293.1V331.6M282.5 327.5V336.6M284.5 318.5V326.1M295.5 345.3V352.9M303.5 426.6V481.0M305.5 409.0V434.2M307.5 391.3V412.7M309.5 373.7V389.4M311.5 368.3V377.7M315.5 372.3V387.0M317.5 368.4V384.0M325.5 420.1V435.0M332.5 418.5V450.8M334.5 416.9V432.5M340.5 429.6V467.6M342.5 416.4V436.6M344.5 405.6V417.1M346.5 385.6V404.8M348.5 387.7V403.2M365.5 406.7V419.5M371.5 414.3V422.9M373.5 410.1V430.9M377.5 432.9V465.8M379.5 394.7V435.1M383.5 426.4V441.8M385.5 422.0V439.1M389.5 419.4V432.7M402.5 460.0V490.9M430.5 653.7V726.1M433.5 643.3V739.8M437.5 622.5V660.0M441.5 618.0V642.4M443.5 587.7V612.6M445.5 543.9V583.1M447.5 470.2V551.9M453.5 526.0V575.8M455.5 498.6V524.4M459.5 506.5V526.4M470.5 543.1V569.1M472.5 558.6V572.2M474.5 545.9V559.5M476.5 533.8V546.8M486.5 552.1V558.1M488.5 553.0V557.9M490.5 525.1V552.3M492.5 531.0V546.5M494.5 518.9V532.2M500.5 531.9V545.1M505.5 526.5V547.2M509.5 532.9V550.1M519.5 560.0V569.9M521.5 540.4V564.5M523.5 524.9V540.1M525.5 526.3V539.1M529.5 531.6V541.5M533.5 533.4V544.1M535.5 531.7V540.1M544.5 557.2V562.2M548.5 551.1V562.4M554.5 564.5V570.6M556.5 557.9V566.5M566.5 584.3V598.6M573.5 584.5V606.0M575.5 579.4V592.3M577.5 571.2V582.4M581.5 580.9V588.2M585.5 582.1V586.5M587.5 578.2V582.9M589.5 571.1V581.0M591.5 563.4V574.6M599.5 587.6V600.0M603.5 592.6V600.1M608.5 590.5V596.8M612.5 596.7V603.1M614.5 591.5V599.8M618.5 584.1V594.4M620.5 557.1V585.7M622.5 549.3V563.8M630.5 555.9V562.8M632.5 555.1V559.1M636.5 551.5V558.1M638.5 527.1V548.6M640.5 516.3V535.1M645.5 497.7V524.0M647.5 511.9V520.9M649.5 498.7V512.6M653.5 487.9V497.5M655.5 464.9V487.9M659.5 437.3V467.9M661.5 398.3V437.1M669.5 467.9V482.9M676.5 516.1V533.6M678.5 505.5V519.2M686.5 517.2V525.1M688.5 493.9V515.4M692.5 487.8V509.6M696.5 500.5V511.0M700.5 500.3V515.1M706.5 501.3V511.4M717.5 523.9V529.1M721.5 505.5V520.7M723.5 505.0V516.1M731.5 508.4V519.1M735.5 505.1V511.6M737.5 501.1V505.1M741.5 517.4V523.6M743.5 508.8V527.3M752.5 549.6V558.2M754.5 548.4V552.7M760.5 541.1V557.1M762.5 543.8V549.8M768.5 564.5V575.6M772.5 557.2V569.9M778.5 550.5V562.7M783.5 554.2V565.9M785.5 552.4V556.9M787.5 547.6V554.5M793.5 548.4V570.3M795.5 540.9V559.1M801.5 546.1V553.2M805.5 544.9V549.4M807.5 544.5V547.9M809.5 542.6V547.2M811.5 536.7V544.1M813.5 535.1V539.8M816.5 533.2V540.2M818.5 521.3V536.3M822.5 533.0V537.8M828.5 544.2V549.4M834.5 550.2V552.9M838.5 548.6V552.3M848.5 573.5V580.5M851.5 566.8V573.4M855.5 602.9V615.2M857.5 604.9V611.9M859.5 588.3V605.3M861.5 572.4V591.4M863.5 565.5V573.7M873.5 595.1V602.0M883.5 614.8V622.7M888.5 615.5V619.6M892.5 607.7V623.6M894.5 593.1V603.0M902.5 577.1V603.7M908.5 589.6V595.9M910.5 581.1V592.1M912.5 578.3V586.3M914.5 552.3V575.2M916.5 537.8V555.2M918.5 514.1V536.4M921.5 514.1V525.5M923.5 502.8V523.0M929.5 535.5V550.3M931.5 520.1V535.7M935.5 529.9V541.3M939.5 534.5V539.3M945.5 561.1V577.3M949.5 563.9V569.2M951.5 563.1V569.0M953.5 558.2V564.6M956.5 552.0V561.6M958.5 554.9V562.0M972.5 600.2V603.4M974.5 598.5V609.6M976.5 593.5V597.8M986.5 617.0V655.3M988.5 611.3V645.4M995.5 600.5V618.9M997.5 580.2V600.7M1001.5 558.9V585.9M1003.5 547.3V563.9M1011.5 581.2V587.6M1013.5 572.6V589.5M1026.5 583.9V600.8M1028.5 583.8V597.5" stroke="#089981" stroke-width="1.6" stroke-opacity="0.4" fill="none"/>
<path d="M11.0 176.6 L19.0 176.6" fill="none" stroke="#48a14c" stroke-width="1.35" stroke-opacity="0.82" stroke-linejoin="round"/><path d="M56.0 233.7 L101.5 233.7 L104.0 225.6 L127.5 225.6 L134.5 219.5 L150.7 219.5" fill="none" stroke="#48a14c" stroke-width="1.35" stroke-opacity="0.82" stroke-linejoin="round"/><path d="M170.0 258.0 L174.2 243.4 L203.0 243.4 L214.6 241.3 L216.5 236.0 L221.0 226.8 L248.0 226.8" fill="none" stroke="#48a14c" stroke-width="1.35" stroke-opacity="0.82" stroke-linejoin="round"/><path d="M443.4 752.0 L445.9 683.4 L449.0 653.3 L473.9 653.3 L478.0 643.0 L482.2 636.7 L487.4 632.6 L489.5 616.0 L492.6 615.0 L495.0 600.8 L525.8 599.3 L536.2 594.2 L561.0 594.2" fill="none" stroke="#48a14c" stroke-width="1.35" stroke-opacity="0.82" stroke-linejoin="round"/><path d="M632.7 597.8 L637.8 589.5 L643.0 566.6 L649.3 556.3 L654.5 533.4 L659.6 508.5 L660.7 489.8 L663.8 486.0 L669.0 486.0" fill="none" stroke="#48a14c" stroke-width="1.35" stroke-opacity="0.82" stroke-linejoin="round"/><path d="M862.9 613.6 L866.0 606.4 L876.4 606.4" fill="none" stroke="#48a14c" stroke-width="1.35" stroke-opacity="0.82" stroke-linejoin="round"/><path d="M916.0 610.8 L918.0 583.8 L921.0 572.4 L924.3 570.3 L940.9 570.3" fill="none" stroke="#48a14c" stroke-width="1.35" stroke-opacity="0.82" stroke-linejoin="round"/><path d="M1000.0 639.8 L1002.0 625.3 L1003.1 619.5 L1031.9 619.5" fill="none" stroke="#48a14c" stroke-width="1.35" stroke-opacity="0.82" stroke-linejoin="round"/><path d="M21.0 127.0 L28.0 136.5 L32.0 153.7 L36.0 164.0 L51.5 164.0" fill="none" stroke="#d84a57" stroke-width="1.35" stroke-opacity="0.82" stroke-linejoin="round"/><path d="M152.7 199.0 L156.8 216.5 L169.0 216.5" fill="none" stroke="#d84a57" stroke-width="1.35" stroke-opacity="0.82" stroke-linejoin="round"/><path d="M248.0 191.5 L253.0 212.0 L259.0 227.0 L262.4 242.4 L281.0 242.4 L283.0 250.7 L289.4 253.8 L294.6 280.8 L297.7 299.5 L300.0 320.0 L302.8 344.5 L329.8 344.5 L334.0 346.6 L360.0 347.0 L367.0 350.0 L370.0 358.4 L375.5 361.5 L377.6 375.0 L395.0 375.0 L398.0 388.5 L400.4 401.0 L405.6 401.0 L411.6 440.0 L415.8 463.0 L421.0 510.6 L424.0 539.6 L427.0 577.0 L429.0 601.0 L440.7 601.0" fill="none" stroke="#d84a57" stroke-width="1.35" stroke-opacity="0.82" stroke-linejoin="round"/><path d="M600.5 544.8 L601.5 548.0 L608.8 550.0 L612.0 555.8 L634.7 555.8" fill="none" stroke="#d84a57" stroke-width="1.35" stroke-opacity="0.82" stroke-linejoin="round"/><path d="M671.1 406.0 L673.5 425.0 L676.0 437.0 L680.0 437.0 L682.3 442.0 L685.5 447.5 L704.0 447.8 L709.5 450.0 L712.7 465.0 L716.0 474.7 L719.0 481.5 L745.6 481.5 L749.7 498.4 L752.8 507.7 L762.2 509.8 L766.3 522.3 L789.2 522.9 L791.2 526.4 L834.8 526.4 L839.0 530.6 L843.1 543.0 L848.3 551.3 L852.5 559.6 L856.6 570.0 L861.8 571.0" fill="none" stroke="#d84a57" stroke-width="1.35" stroke-opacity="0.82" stroke-linejoin="round"/><path d="M873.2 548.2 L878.4 551.3 L882.6 563.8 L885.7 571.0 L889.9 573.8 L911.8 573.8" fill="none" stroke="#d84a57" stroke-width="1.35" stroke-opacity="0.82" stroke-linejoin="round"/><path d="M945.0 507.0 L950.2 511.6 L960.6 512.2 L962.7 527.7 L965.8 542.3 L967.8 552.7 L973.0 557.8 L979.3 560.0 L982.4 573.4 L984.5 590.0 L985.5 598.0 L993.8 598.0" fill="none" stroke="#d84a57" stroke-width="1.35" stroke-opacity="0.82" stroke-linejoin="round"/><path d="M10.2 223.5h3.7M12.0 221.7v3.7M12.3 219.6h3.7M14.1 217.7v3.7M14.4 215.6h3.7M16.3 213.8v3.7M16.6 211.7h3.7M18.4 209.9v3.7M18.7 207.8h3.7M20.6 205.9v3.7M20.9 203.9h3.7M22.7 202.0v3.7M23.0 199.9h3.7M24.9 198.1v3.7M25.1 196.0h3.7M27.0 194.2v3.7M25.3 112.0h3.7M27.2 110.2v3.7M27.4 114.0h3.7M29.3 112.2v3.7M29.5 117.5h3.7M31.4 115.7v3.7M31.6 122.8h3.7M33.5 121.0v3.7M33.7 132.4h3.7M35.6 130.6v3.7M35.8 139.8h3.7M37.7 137.9v3.7M37.9 149.3h3.7M39.7 147.5v3.7M40.0 157.4h3.7M41.8 155.6v3.7M42.1 165.2h3.7M43.9 163.3v3.7M44.2 171.5h3.7M46.0 169.7v3.7M46.3 177.3h3.7M48.1 175.4v3.7M48.4 182.5h3.7M50.2 180.7v3.7M49.6 229.0h3.7M51.5 227.2v3.7M51.6 228.6h3.7M53.5 226.8v3.7M53.6 228.0h3.7M55.4 226.2v3.7M55.6 226.7h3.7M57.4 224.9v3.7M57.5 223.4h3.7M59.4 221.6v3.7M59.5 218.4h3.7M61.4 216.5v3.7M61.5 212.6h3.7M63.3 210.7v3.7M63.5 207.0h3.7M65.3 205.2v3.7M65.4 201.8h3.7M67.3 199.9v3.7M67.4 197.2h3.7M69.3 195.4v3.7M69.4 193.1h3.7M71.2 191.3v3.7M71.4 189.0h3.7M73.2 187.2v3.7M72.6 141.0h3.7M74.4 139.2v3.7M74.7 143.2h3.7M76.5 141.3v3.7M76.8 145.3h3.7M78.6 143.5v3.7M78.9 147.5h3.7M80.8 145.6v3.7M81.0 149.6h3.7M82.9 147.8v3.7M83.2 151.8h3.7M85.0 149.9v3.7M85.3 153.9h3.7M87.1 152.1v3.7M87.4 156.1h3.7M89.3 154.2v3.7M89.5 158.2h3.7M91.4 156.4v3.7M91.7 160.4h3.7M93.5 158.5v3.7M93.8 162.5h3.7M95.6 160.7v3.7M95.9 164.7h3.7M97.8 162.8v3.7M98.0 166.8h3.7M99.9 165.0v3.7M100.2 169.0h3.7M102.0 167.2v3.7M101.2 216.5h3.7M103.0 214.7v3.7M103.2 215.6h3.7M105.0 213.7v3.7M105.2 214.7h3.7M107.1 212.8v3.7M107.2 213.8h3.7M109.1 211.9v3.7M109.3 212.9h3.7M111.1 211.0v3.7M111.3 212.0h3.7M113.2 210.1v3.7M113.3 211.1h3.7M115.2 209.2v3.7M115.4 210.2h3.7M117.2 208.3v3.7M117.4 209.2h3.7M119.2 207.4v3.7M119.4 208.3h3.7M121.3 206.5v3.7M121.5 207.4h3.7M123.3 205.6v3.7M123.5 206.5h3.7M125.3 204.7v3.7M125.5 205.6h3.7M127.4 203.8v3.7M127.6 204.7h3.7M129.4 202.9v3.7M129.6 203.8h3.7M131.4 202.0v3.7M131.6 202.9h3.7M133.5 201.1v3.7M133.7 202.0h3.7M135.5 200.2v3.7M134.7 158.0h3.7M136.5 156.2v3.7M136.7 159.2h3.7M138.5 157.3v3.7M138.7 160.8h3.7M140.6 158.9v3.7M140.7 162.8h3.7M142.6 160.9v3.7M142.8 165.9h3.7M144.6 164.0v3.7M144.8 169.8h3.7M146.6 167.9v3.7M146.8 174.4h3.7M148.7 172.6v3.7M148.8 179.3h3.7M150.7 177.4v3.7M150.9 184.7h3.7M152.7 182.9v3.7M152.9 193.1h3.7M154.7 191.3v3.7M154.9 204.7h3.7M156.8 202.9v3.7M157.0 217.5h3.7M158.8 215.7v3.7M159.0 270.7h3.7M160.8 268.8v3.7M161.0 269.6h3.7M162.9 267.7v3.7M163.1 268.3h3.7M164.9 266.5v3.7M165.2 266.9h3.7M167.0 265.1v3.7M167.2 264.9h3.7M169.1 263.1v3.7M169.3 262.1h3.7M171.1 260.3v3.7M171.4 258.5h3.7M173.2 256.6v3.7M173.4 253.8h3.7M175.3 251.9v3.7M175.5 244.4h3.7M177.3 242.5v3.7M177.6 236.9h3.7M179.4 235.0v3.7M179.6 229.9h3.7M181.5 228.0v3.7M181.7 225.7h3.7M183.5 223.8v3.7M183.8 220.5h3.7M185.6 218.6v3.7M185.8 215.3h3.7M187.7 213.5v3.7M187.9 211.1h3.7M189.7 209.3v3.7M190.0 207.0h3.7M191.8 205.2v3.7M190.0 171.8h3.7M191.8 170.0v3.7M191.9 174.4h3.7M193.8 172.6v3.7M193.9 176.8h3.7M195.7 174.9v3.7M195.8 178.7h3.7M197.7 176.8v3.7M197.8 181.0h3.7M199.6 179.1v3.7M199.7 183.4h3.7M201.6 181.5v3.7M201.7 185.9h3.7M203.5 184.1v3.7M203.6 187.9h3.7M205.5 186.1v3.7M205.6 189.5h3.7M207.4 187.7v3.7M204.5 225.8h3.7M206.3 224.0v3.7M206.5 225.0h3.7M208.3 223.1v3.7M208.5 224.2h3.7M210.3 222.3v3.7M210.5 223.4h3.7M212.3 221.5v3.7M212.5 222.6h3.7M214.3 220.7v3.7M214.5 221.8h3.7M216.3 219.9v3.7M216.5 220.8h3.7M218.3 218.9v3.7M218.5 219.8h3.7M220.3 217.9v3.7M220.5 217.6h3.7M222.3 215.8v3.7M222.5 215.0h3.7M224.3 213.2v3.7M224.5 212.5h3.7M226.3 210.6v3.7M226.5 210.0h3.7M228.3 208.1v3.7M228.5 208.0h3.7M230.3 206.2v3.7M230.5 206.0h3.7M232.3 204.2v3.7M233.6 176.0h3.7M235.4 174.2v3.7M235.6 177.5h3.7M237.5 175.7v3.7M237.7 179.0h3.7M239.5 177.2v3.7M239.7 181.7h3.7M241.6 179.9v3.7M241.8 184.4h3.7M243.6 182.6v3.7M243.8 187.2h3.7M245.7 185.4v3.7M245.9 190.6h3.7M247.7 188.8v3.7M247.9 195.0h3.7M249.8 193.1v3.7M250.0 200.5h3.7M251.8 198.6v3.7M252.0 208.4h3.7M253.9 206.6v3.7M254.1 215.6h3.7M256.0 213.7v3.7M256.2 223.0h3.7M258.0 221.2v3.7M258.2 232.0h3.7M260.1 230.1v3.7M260.3 245.2h3.7M262.1 243.4v3.7M262.3 257.1h3.7M264.2 255.3v3.7M264.4 266.9h3.7M266.2 265.0v3.7M266.4 275.9h3.7M268.3 274.1v3.7M268.5 283.5h3.7M270.3 281.6v3.7M270.5 290.5h3.7M272.4 288.6v3.7M272.1 341.2h3.7M274.0 339.3v3.7M274.1 341.0h3.7M276.0 339.1v3.7M276.1 340.8h3.7M278.0 338.9v3.7M276.1 290.5h3.7M278.0 288.6v3.7M278.3 290.8h3.7M280.1 288.9v3.7M280.4 291.1h3.7M282.2 289.2v3.7M282.5 291.7h3.7M284.3 289.8v3.7M284.6 292.5h3.7M286.5 290.6v3.7M286.7 293.4h3.7M288.6 291.6v3.7M288.8 295.0h3.7M290.7 293.2v3.7M290.9 297.0h3.7M292.8 295.1v3.7M293.1 301.2h3.7M294.9 299.4v3.7M295.2 306.0h3.7M297.0 304.1v3.7M297.3 312.0h3.7M299.1 310.2v3.7M299.4 324.6h3.7M301.3 322.8v3.7M301.5 345.0h3.7M303.4 343.2v3.7M303.6 362.5h3.7M305.5 360.7v3.7M305.8 379.8h3.7M307.6 377.9v3.7M307.1 493.0h3.7M309.0 491.1v3.7M309.1 489.3h3.7M311.0 487.4v3.7M311.1 485.5h3.7M313.0 483.7v3.7M313.1 481.8h3.7M315.0 480.0v3.7M315.1 478.1h3.7M317.0 476.2v3.7M317.1 474.4h3.7M319.0 472.5v3.7M319.1 470.6h3.7M321.0 468.8v3.7M321.1 466.9h3.7M323.0 465.1v3.7M323.1 463.2h3.7M325.0 461.3v3.7M325.1 459.5h3.7M327.0 457.6v3.7M327.1 455.7h3.7M329.0 453.9v3.7M329.1 452.0h3.7M331.0 450.1v3.7M330.1 365.0h3.7M332.0 363.1v3.7M332.1 367.8h3.7M333.9 366.0v3.7M334.0 370.7h3.7M335.8 368.8v3.7M335.9 373.5h3.7M337.7 371.6v3.7M337.8 376.3h3.7M339.7 374.5v3.7M339.7 379.1h3.7M341.6 377.3v3.7M341.6 382.0h3.7M343.5 380.1v3.7M343.5 384.8h3.7M345.4 382.9v3.7M345.6 473.6h3.7M347.5 471.8v3.7M347.6 469.7h3.7M349.5 467.9v3.7M349.6 465.8h3.7M351.5 464.0v3.7M351.6 462.0h3.7M353.4 460.1v3.7M353.6 458.1h3.7M355.4 456.2v3.7M355.6 454.2h3.7M357.4 452.3v3.7M357.5 450.3h3.7M359.4 448.5v3.7M359.5 446.4h3.7M361.4 444.6v3.7M361.5 442.5h3.7M363.4 440.7v3.7M363.5 438.6h3.7M365.4 436.8v3.7M365.5 434.8h3.7M367.3 432.9v3.7M367.5 430.9h3.7M369.3 429.0v3.7M369.4 427.0h3.7M371.3 425.1v3.7M370.5 381.0h3.7M372.4 379.1v3.7M372.8 383.1h3.7M374.7 381.2v3.7M375.1 385.4h3.7M377.0 383.5v3.7M375.8 476.7h3.7M377.6 474.8v3.7M377.9 477.1h3.7M379.8 475.2v3.7M380.1 476.2h3.7M382.0 474.3v3.7M382.3 474.4h3.7M384.1 472.6v3.7M384.4 472.6h3.7M386.3 470.8v3.7M386.6 470.8h3.7M388.5 468.9v3.7M388.8 469.0h3.7M390.6 467.1v3.7M391.0 467.1h3.7M392.8 465.3v3.7M393.1 465.3h3.7M395.0 463.4v3.7M395.1 391.6h3.7M397.0 389.8v3.7M397.3 393.1h3.7M399.1 391.2v3.7M399.4 395.0h3.7M401.2 393.2v3.7M401.5 399.0h3.7M403.3 397.2v3.7M403.6 405.7h3.7M405.4 403.9v3.7M405.7 412.5h3.7M407.5 410.7v3.7M407.8 421.9h3.7M409.6 420.1v3.7M409.9 435.1h3.7M411.7 433.3v3.7M412.0 449.0h3.7M413.9 447.2v3.7M414.1 466.7h3.7M416.0 464.8v3.7M416.2 484.2h3.7M418.1 482.4v3.7M418.3 509.9h3.7M420.2 508.0v3.7M420.4 532.1h3.7M422.3 530.3v3.7M422.5 557.9h3.7M424.4 556.1v3.7M424.6 576.4h3.7M426.5 574.6v3.7M426.7 603.9h3.7M428.6 602.1v3.7M428.8 634.2h3.7M430.7 632.4v3.7M433.6 770.5h3.7M435.5 768.6v3.7M435.7 768.6h3.7M437.5 766.7v3.7M437.7 766.0h3.7M439.6 764.1v3.7M439.8 763.1h3.7M441.6 761.2v3.7M441.8 759.0h3.7M443.6 757.2v3.7M443.8 750.2h3.7M445.7 748.4v3.7M445.8 736.2h3.7M447.7 734.4v3.7M447.9 711.7h3.7M449.7 709.8v3.7M449.9 686.8h3.7M451.8 685.0v3.7M451.9 663.9h3.7M453.8 662.1v3.7M454.0 644.6h3.7M455.8 642.8v3.7M456.0 628.7h3.7M457.9 626.8v3.7M458.0 611.0h3.7M459.9 609.2v3.7M460.1 595.7h3.7M461.9 593.8v3.7M462.1 582.0h3.7M464.0 580.2v3.7M464.1 570.0h3.7M466.0 568.1v3.7M465.3 458.3h3.7M467.2 456.4v3.7M467.4 460.2h3.7M469.2 458.3v3.7M469.4 462.0h3.7M471.3 460.2v3.7M471.5 463.9h3.7M473.3 462.1v3.7M473.5 465.8h3.7M475.4 463.9v3.7M475.6 467.7h3.7M477.4 465.8v3.7M477.6 469.5h3.7M479.5 467.7v3.7M479.7 471.4h3.7M481.5 469.6v3.7M481.7 473.3h3.7M483.5 471.4v3.7M483.7 475.2h3.7M485.6 473.3v3.7M485.8 477.0h3.7M487.6 475.2v3.7M487.8 478.9h3.7M489.7 477.0v3.7M489.9 480.8h3.7M491.7 478.9v3.7M491.9 482.6h3.7M493.8 480.8v3.7M494.0 484.5h3.7M495.8 482.7v3.7M496.0 486.4h3.7M497.8 484.5v3.7M498.0 488.3h3.7M499.9 486.4v3.7M500.1 490.1h3.7M501.9 488.3v3.7M502.1 492.0h3.7M504.0 490.2v3.7M504.2 493.9h3.7M506.0 492.0v3.7M506.2 495.8h3.7M508.1 493.9v3.7M508.3 497.6h3.7M510.1 495.8v3.7M510.3 499.5h3.7M512.1 497.6v3.7M512.3 501.4h3.7M514.2 499.5v3.7M514.4 503.2h3.7M516.2 501.4v3.7M516.4 505.3h3.7M518.3 503.4v3.7M518.5 507.6h3.7M520.3 505.8v3.7M520.5 509.9h3.7M522.4 508.1v3.7M522.6 512.2h3.7M524.4 510.4v3.7M524.6 514.6h3.7M526.5 512.7v3.7M526.6 516.9h3.7M528.5 515.0v3.7M528.7 519.2h3.7M530.5 517.4v3.7M530.7 521.5h3.7M532.6 519.7v3.7M532.8 523.9h3.7M534.6 522.0v3.7M534.8 526.2h3.7M536.7 524.3v3.7M536.9 528.5h3.7M538.7 526.6v3.7M538.9 530.8h3.7M540.8 528.9v3.7M540.9 532.8h3.7M542.8 530.9v3.7M543.0 534.8h3.7M544.8 533.0v3.7M545.0 536.9h3.7M546.9 535.0v3.7M547.1 538.9h3.7M548.9 537.1v3.7M549.1 541.0h3.7M551.0 539.1v3.7M551.2 543.0h3.7M553.0 541.2v3.7M553.2 545.2h3.7M555.1 543.3v3.7M555.2 547.4h3.7M557.1 545.5v3.7M557.3 549.5h3.7M559.1 547.7v3.7M559.3 551.7h3.7M561.2 549.8v3.7M561.4 553.9h3.7M563.2 552.0v3.7M563.4 556.0h3.7M565.3 554.2v3.7M565.5 558.2h3.7M567.3 556.3v3.7M567.5 560.4h3.7M569.4 558.5v3.7M569.5 560.6h3.7M571.4 558.8v3.7M570.6 559.4h3.7M572.5 557.5v3.7M572.7 560.2h3.7M574.6 558.3v3.7M574.8 560.9h3.7M576.6 559.1v3.7M576.8 561.7h3.7M578.7 559.8v3.7M578.9 562.4h3.7M580.7 560.6v3.7M580.9 563.2h3.7M582.8 561.3v3.7M583.0 563.9h3.7M584.8 562.1v3.7M585.0 564.7h3.7M586.9 562.8v3.7M587.1 565.4h3.7M588.9 563.6v3.7M589.1 566.2h3.7M591.0 564.4v3.7M589.1 609.8h3.7M591.0 607.9v3.7M591.3 608.5h3.7M593.1 606.7v3.7M593.4 607.3h3.7M595.3 605.4v3.7M595.5 606.0h3.7M597.4 604.1v3.7M595.5 560.8h3.7M597.4 558.9v3.7M597.5 561.7h3.7M599.4 559.8v3.7M599.5 562.5h3.7M601.4 560.7v3.7M601.5 563.4h3.7M603.3 561.6v3.7M603.5 564.3h3.7M605.3 562.4v3.7M605.5 565.2h3.7M607.3 563.3v3.7M607.4 566.0h3.7M609.3 564.2v3.7M609.4 566.9h3.7M611.3 565.1v3.7M611.4 567.8h3.7M613.3 565.9v3.7M613.4 568.7h3.7M615.2 566.8v3.7M615.4 569.5h3.7M617.2 567.7v3.7M617.4 570.4h3.7M619.2 568.5v3.7M618.4 606.0h3.7M620.2 604.1v3.7M620.4 604.1h3.7M622.2 602.2v3.7M622.5 602.2h3.7M624.3 600.3v3.7M624.5 600.2h3.7M626.4 598.4v3.7M626.5 598.3h3.7M628.4 596.5v3.7M628.6 596.4h3.7M630.5 594.5v3.7M630.6 594.5h3.7M632.5 592.6v3.7M632.7 592.5h3.7M634.6 590.7v3.7M634.8 590.6h3.7M636.6 588.8v3.7M636.8 588.1h3.7M638.6 586.3v3.7M638.9 584.8h3.7M640.7 582.9v3.7M640.9 579.7h3.7M642.8 577.8v3.7M642.9 572.5h3.7M644.8 570.7v3.7M645.0 564.8h3.7M646.9 563.0v3.7M647.0 556.3h3.7M648.9 554.4v3.7M649.1 548.3h3.7M650.9 546.5v3.7M651.1 540.7h3.7M653.0 538.8v3.7M653.2 532.2h3.7M655.0 530.4v3.7M655.2 519.2h3.7M657.1 517.3v3.7M657.3 507.0h3.7M659.1 505.2v3.7M659.3 493.7h3.7M661.2 491.8v3.7M661.4 476.5h3.7M663.2 474.6v3.7M663.4 455.6h3.7M665.3 453.8v3.7M665.2 370.8h3.7M667.1 368.9v3.7M667.3 373.2h3.7M669.2 371.3v3.7M669.4 376.0h3.7M671.3 374.1v3.7M671.5 380.1h3.7M673.4 378.3v3.7M673.6 389.8h3.7M675.5 387.9v3.7M675.7 399.4h3.7M677.5 397.5v3.7M677.8 409.2h3.7M679.6 407.3v3.7M679.9 420.7h3.7M681.7 418.9v3.7M682.0 429.5h3.7M683.8 427.6v3.7M684.1 439.4h3.7M685.9 437.6v3.7M686.1 449.5h3.7M688.0 447.7v3.7M688.2 460.0h3.7M690.1 458.2v3.7M690.3 466.8h3.7M692.2 464.9v3.7M692.4 474.5h3.7M694.3 472.7v3.7M694.5 480.5h3.7M696.3 478.7v3.7M696.6 486.5h3.7M698.4 484.6v3.7M698.7 490.6h3.7M700.5 488.8v3.7M700.8 495.0h3.7M702.6 493.2v3.7M702.9 497.8h3.7M704.7 495.9v3.7M703.4 536.5h3.7M705.3 534.6v3.7M705.5 535.8h3.7M707.4 533.9v3.7M707.6 535.0h3.7M709.5 533.1v3.7M709.7 534.2h3.7M711.5 532.4v3.7M711.8 533.5h3.7M713.6 531.6v3.7M713.9 532.8h3.7M715.7 530.9v3.7M715.9 532.0h3.7M717.8 530.1v3.7M716.9 499.6h3.7M718.8 497.8v3.7M717.0 499.7h3.7M718.9 497.8v3.7M718.0 548.0h3.7M719.9 546.1v3.7M720.1 547.2h3.7M722.0 545.4v3.7M722.2 546.4h3.7M724.0 544.6v3.7M724.2 545.6h3.7M726.1 543.8v3.7M726.3 544.9h3.7M728.1 543.0v3.7M728.3 544.1h3.7M730.2 542.2v3.7M730.4 543.3h3.7M732.2 541.4v3.7M732.4 542.5h3.7M734.3 540.7v3.7M734.5 541.7h3.7M736.3 539.9v3.7M736.5 540.9h3.7M738.4 539.1v3.7M738.6 540.2h3.7M740.4 538.3v3.7M740.6 539.4h3.7M742.5 537.5v3.7M742.7 538.6h3.7M744.5 536.7v3.7M744.8 537.8h3.7M746.6 535.9v3.7M745.8 497.8h3.7M747.6 495.9v3.7M747.8 501.7h3.7M749.7 499.9v3.7M749.9 505.6h3.7M751.8 503.8v3.7M752.0 509.6h3.7M753.8 507.7v3.7M754.1 513.5h3.7M755.9 511.6v3.7M756.1 517.4h3.7M758.0 515.6v3.7M758.2 521.3h3.7M760.1 519.5v3.7M760.3 525.3h3.7M762.1 523.4v3.7M762.4 529.2h3.7M764.2 527.3v3.7M764.4 533.1h3.7M766.3 531.3v3.7M766.5 537.0h3.7M768.4 535.2v3.7M768.6 541.0h3.7M770.4 539.1v3.7M770.7 544.9h3.7M772.5 543.0v3.7M772.8 548.8h3.7M774.6 546.9v3.7M775.9 580.4h3.7M777.7 578.5v3.7M777.9 579.4h3.7M779.8 577.5v3.7M780.0 578.3h3.7M781.9 576.5v3.7M782.1 577.3h3.7M784.0 575.4v3.7M784.2 576.3h3.7M786.0 574.4v3.7M786.3 575.2h3.7M788.1 573.4v3.7M788.4 574.2h3.7M790.2 572.4v3.7M790.4 583.5h3.7M792.3 581.6v3.7M792.5 582.0h3.7M794.4 580.2v3.7M794.6 580.6h3.7M796.5 578.7v3.7M796.7 579.1h3.7M798.5 577.2v3.7M798.8 577.6h3.7M800.6 575.8v3.7M800.8 576.2h3.7M802.7 574.3v3.7M802.9 574.7h3.7M804.8 572.8v3.7M805.0 573.2h3.7M806.8 571.4v3.7M807.1 571.8h3.7M808.9 569.9v3.7M809.1 570.3h3.7M811.0 568.4v3.7M811.2 568.8h3.7M813.1 567.0v3.7M813.3 567.4h3.7M815.1 565.5v3.7M815.4 565.9h3.7M817.2 564.0v3.7M817.4 562.1h3.7M819.3 560.3v3.7M819.5 558.4h3.7M821.4 556.6v3.7M821.6 554.7h3.7M823.4 552.8v3.7M823.7 550.9h3.7M825.5 549.1v3.7M825.8 547.2h3.7M827.6 545.4v3.7M825.8 520.2h3.7M827.6 518.4v3.7M827.8 521.4h3.7M829.6 519.5v3.7M829.8 522.6h3.7M831.6 520.7v3.7M831.8 523.8h3.7M833.6 521.9v3.7M833.8 525.0h3.7M835.6 523.1v3.7M835.8 526.2h3.7M837.6 524.3v3.7M837.8 529.5h3.7M839.6 527.6v3.7M839.8 533.3h3.7M841.6 531.4v3.7M841.8 537.1h3.7M843.7 535.2v3.7M843.8 541.1h3.7M845.7 539.3v3.7M845.8 546.0h3.7M847.7 544.2v3.7M847.8 550.9h3.7M849.7 549.1v3.7M849.8 555.7h3.7M851.7 553.8v3.7M851.8 560.8h3.7M853.7 558.9v3.7M853.8 566.2h3.7M855.7 564.3v3.7M855.8 573.0h3.7M857.7 571.1v3.7M857.9 580.4h3.7M859.7 578.5v3.7M857.9 617.8h3.7M859.7 615.9v3.7M859.9 616.0h3.7M861.8 614.2v3.7M862.0 614.2h3.7M863.9 612.4v3.7M864.1 612.4h3.7M866.0 610.6v3.7M866.2 609.9h3.7M868.0 608.0v3.7M868.3 606.5h3.7M870.1 604.7v3.7M870.4 603.2h3.7M872.2 601.4v3.7M870.4 548.8h3.7M872.2 546.9v3.7M872.4 549.8h3.7M874.2 547.9v3.7M874.4 550.8h3.7M876.2 548.9v3.7M876.4 551.8h3.7M878.2 549.9v3.7M878.4 554.0h3.7M880.2 552.1v3.7M880.4 558.5h3.7M882.2 556.7v3.7M882.4 563.3h3.7M884.2 561.5v3.7M884.4 568.7h3.7M886.2 566.8v3.7M886.4 574.0h3.7M888.2 572.1v3.7M888.4 578.7h3.7M890.2 576.9v3.7M890.4 583.9h3.7M892.2 582.0v3.7M892.4 589.3h3.7M894.2 587.5v3.7M894.4 595.5h3.7M896.2 593.6v3.7M896.4 601.0h3.7M898.2 599.1v3.7M894.1 629.2h3.7M896.0 627.4v3.7M896.2 628.5h3.7M898.1 626.6v3.7M898.3 627.8h3.7M900.1 625.9v3.7M900.3 627.0h3.7M902.2 625.2v3.7M902.4 625.0h3.7M904.3 623.1v3.7M904.5 622.9h3.7M906.3 621.0v3.7M906.5 620.7h3.7M908.4 618.9v3.7M908.6 618.6h3.7M910.5 616.8v3.7M910.7 616.5h3.7M912.5 614.6v3.7M912.7 614.4h3.7M914.6 612.5v3.7M914.8 611.1h3.7M916.6 609.3v3.7M916.9 605.4h3.7M918.7 603.6v3.7M918.9 596.3h3.7M920.8 594.4v3.7M921.0 585.7h3.7M922.8 583.8v3.7M923.0 573.4h3.7M924.9 571.5v3.7M925.5 553.7h3.7M927.4 551.9v3.7M927.6 553.4h3.7M929.5 551.5v3.7M929.7 553.0h3.7M931.5 551.2v3.7M931.8 552.7h3.7M933.6 550.9v3.7M934.9 499.3h3.7M936.7 497.4v3.7M936.9 500.3h3.7M938.8 498.4v3.7M939.0 501.3h3.7M940.9 499.4v3.7M941.1 503.4h3.7M942.9 501.5v3.7M943.1 506.5h3.7M945.0 504.6v3.7M945.2 511.5h3.7M947.1 509.6v3.7M947.3 518.2h3.7M949.2 516.4v3.7M949.4 523.8h3.7M951.2 522.0v3.7M951.5 528.4h3.7M953.3 526.5v3.7M953.5 531.9h3.7M955.4 530.0v3.7M955.6 534.9h3.7M957.5 533.1v3.7M957.7 538.4h3.7M959.5 536.6v3.7M959.8 542.3h3.7M961.6 540.4v3.7M961.8 546.3h3.7M963.7 544.4v3.7M963.9 551.1h3.7M965.8 549.2v3.7M966.0 557.2h3.7M967.8 555.3v3.7M968.0 565.5h3.7M969.9 563.7v3.7M970.1 573.3h3.7M972.0 571.5v3.7M972.2 579.5h3.7M974.0 577.7v3.7M974.3 585.1h3.7M976.1 583.2v3.7M976.4 588.9h3.7M978.2 587.0v3.7M978.4 591.9h3.7M980.3 590.0v3.7M980.5 595.1h3.7M982.4 593.3v3.7M982.6 598.3h3.7M984.4 596.4v3.7M984.6 601.4h3.7M986.5 599.5v3.7M985.8 661.0h3.7M987.6 659.1v3.7M987.9 659.7h3.7M989.7 657.8v3.7M990.0 658.3h3.7M991.9 656.5v3.7M992.2 656.2h3.7M994.0 654.3v3.7M994.3 653.1h3.7M996.2 651.3v3.7M996.4 648.0h3.7M998.3 646.1v3.7M998.6 641.2h3.7M1000.4 639.4v3.7M1000.7 631.1h3.7M1002.6 629.3v3.7M1002.9 617.5h3.7M1004.7 615.7v3.7M1005.0 608.1h3.7M1006.9 606.3v3.7M1007.1 597.5h3.7M1009.0 595.6v3.7M1009.5 541.9h3.7M1011.4 540.0v3.7M1011.6 543.5h3.7M1013.4 541.6v3.7M1013.6 545.3h3.7M1015.5 543.4v3.7M1015.7 547.3h3.7M1017.5 545.5v3.7M1017.7 550.4h3.7M1019.6 548.5v3.7M1019.7 553.9h3.7M1021.6 552.1v3.7M1021.8 560.3h3.7M1023.6 558.5v3.7M1023.8 565.2h3.7M1025.7 563.3v3.7M1025.9 569.9h3.7M1027.7 568.1v3.7M1027.9 573.9h3.7M1029.8 572.1v3.7M1030.0 578.0h3.7M1031.8 576.1v3.7" stroke="#2050dc" stroke-width="1.6" fill="none" stroke-opacity="0.9"/>
<line x1="173.5" y1="175.16" x2="1206" y2="175.16" stroke="#787b86" stroke-width="2.4"/>
<line x1="173.5" y1="302.91" x2="1206" y2="302.91" stroke="#00bcd4" stroke-width="2.4"/>
<line x1="173.5" y1="403.19" x2="1206" y2="403.19" stroke="#089981" stroke-width="2.4"/>
<line x1="173.5" y1="473.61" x2="1206" y2="473.61" stroke="#4caf50" stroke-width="2.4"/>
<line x1="173.5" y1="544.10" x2="1206" y2="544.10" stroke="#ff9800" stroke-width="2.4"/>
<line x1="173.5" y1="631.22" x2="1206" y2="631.22" stroke="#f23645" stroke-width="2.4"/>
<line x1="173.5" y1="772.07" x2="1206" y2="772.07" stroke="#787b86" stroke-width="2.4"/>
<line x1="174" y1="174.5" x2="435.2" y2="771.5" stroke="#787b86" stroke-width="2.5" stroke-dasharray="11 14.65" stroke-dashoffset="2.5"/>
<line x1="174" y1="174.5" x2="1214" y2="710.1" stroke="#787b86" stroke-width="2.5" stroke-dasharray="11.5 14.2" stroke-dashoffset="-0.8"/>
<line x1="11" y1="604.5" x2="1206" y2="604.5" stroke="#ee3d4b" stroke-width="1.25" stroke-dasharray="1.3 2.1"/>
</g>
<text x="94.2" y="180.2" font-size="14.1" fill="#9b9da2" textLength="69.2" lengthAdjust="spacingAndGlyphs">1 (1.9419)</text>
<text x="62" y="307.9" font-size="14.1" fill="#2cc4d8" textLength="101.4" lengthAdjust="spacingAndGlyphs">0.786 (1.7652)</text>
<text x="62" y="408.2" font-size="14.1" fill="#1a9c86" textLength="101.4" lengthAdjust="spacingAndGlyphs">0.618 (1.6265)</text>
<text x="80" y="478.6" font-size="14.1" fill="#62b565" textLength="83.4" lengthAdjust="spacingAndGlyphs">0.5 (1.5291)</text>
<text x="62" y="549.1" font-size="14.1" fill="#f5a425" textLength="101.4" lengthAdjust="spacingAndGlyphs">0.382 (1.4316)</text>
<text x="62" y="636.2" font-size="14.1" fill="#e55560" textLength="101.4" lengthAdjust="spacingAndGlyphs">0.236 (1.3111)</text>
<text x="92.8" y="777.1" font-size="14.1" fill="#9b9da2" textLength="70.6" lengthAdjust="spacingAndGlyphs">0 (1.1163)</text>
<path d="M11.5 31 V868.5 H1276.5 V31" stroke="#f1f2f4" stroke-width="1" fill="none"/>
<path d="M1206 31.5 H1276" stroke="#f3f4f6" stroke-width="1" fill="none"/>
<text x="1217.5" y="101.8" font-size="14.0" fill="#20232c" textLength="47" lengthAdjust="spacingAndGlyphs">2.0500</text>
<text x="1217.5" y="138.0" font-size="14.0" fill="#20232c" textLength="47" lengthAdjust="spacingAndGlyphs">2.0000</text>
<text x="1217.5" y="174.1" font-size="14.0" fill="#20232c" textLength="47" lengthAdjust="spacingAndGlyphs">1.9500</text>
<text x="1217.5" y="210.3" font-size="14.0" fill="#20232c" textLength="47" lengthAdjust="spacingAndGlyphs">1.9000</text>
<text x="1217.5" y="246.4" font-size="14.0" fill="#20232c" textLength="47" lengthAdjust="spacingAndGlyphs">1.8500</text>
<text x="1217.5" y="282.6" font-size="14.0" fill="#20232c" textLength="47" lengthAdjust="spacingAndGlyphs">1.8000</text>
<text x="1217.5" y="318.7" font-size="14.0" fill="#20232c" textLength="47" lengthAdjust="spacingAndGlyphs">1.7500</text>
<text x="1217.5" y="354.9" font-size="14.0" fill="#20232c" textLength="47" lengthAdjust="spacingAndGlyphs">1.7000</text>
<text x="1217.5" y="391.0" font-size="14.0" fill="#20232c" textLength="47" lengthAdjust="spacingAndGlyphs">1.6500</text>
<text x="1217.5" y="427.2" font-size="14.0" fill="#20232c" textLength="47" lengthAdjust="spacingAndGlyphs">1.6000</text>
<text x="1217.5" y="463.3" font-size="14.0" fill="#20232c" textLength="47" lengthAdjust="spacingAndGlyphs">1.5500</text>
<text x="1217.5" y="499.5" font-size="14.0" fill="#20232c" textLength="47" lengthAdjust="spacingAndGlyphs">1.5000</text>
<text x="1217.5" y="535.6" font-size="14.0" fill="#20232c" textLength="47" lengthAdjust="spacingAndGlyphs">1.4500</text>
<text x="1217.5" y="571.8" font-size="14.0" fill="#20232c" textLength="47" lengthAdjust="spacingAndGlyphs">1.4000</text>
<text x="1217.5" y="607.9" font-size="14.0" fill="#20232c" textLength="47" lengthAdjust="spacingAndGlyphs">1.3500</text>
<text x="1217.5" y="644.1" font-size="14.0" fill="#20232c" textLength="47" lengthAdjust="spacingAndGlyphs">1.3000</text>
<text x="1217.5" y="680.2" font-size="14.0" fill="#20232c" textLength="47" lengthAdjust="spacingAndGlyphs">1.2500</text>
<text x="1217.5" y="716.4" font-size="14.0" fill="#20232c" textLength="47" lengthAdjust="spacingAndGlyphs">1.2000</text>
<text x="1217.5" y="752.5" font-size="14.0" fill="#20232c" textLength="47" lengthAdjust="spacingAndGlyphs">1.1500</text>
<text x="1217.5" y="788.7" font-size="14.0" fill="#20232c" textLength="47" lengthAdjust="spacingAndGlyphs">1.1000</text>
<text x="1217.5" y="824.8" font-size="14.0" fill="#20232c" textLength="47" lengthAdjust="spacingAndGlyphs">1.0500</text>
<rect x="1212.5" y="36.5" width="58" height="30" rx="3" fill="#ffffff" stroke="#f1f2f5" stroke-width="1"/>
<text x="1221.5" y="56.2" font-size="14.2" fill="#131722" textLength="29" lengthAdjust="spacingAndGlyphs">USD</text>
<rect x="1207" y="555.5" width="64.5" height="19.8" rx="2.5" fill="#2962ff"/>
<text x="1217.5" y="570.3" font-size="14.0" fill="#ffffff" fill-opacity="0.9" textLength="47" lengthAdjust="spacingAndGlyphs">1.3840</text>
<rect x="1207" y="576" width="64.5" height="19" rx="2.5" fill="#f23645"/>
<rect x="1207" y="590" width="54.5" height="24.6" rx="2.5" fill="#f23645"/>
<text x="1217.5" y="590.3" font-size="14.0" fill="#ffffff" fill-opacity="0.95" textLength="46" lengthAdjust="spacingAndGlyphs">1.3571</text>
<text x="1217.5" y="610.0" font-size="14.0" fill="#ffffff" fill-opacity="0.75" textLength="38" lengthAdjust="spacingAndGlyphs">24:28</text>
<rect x="1207" y="615.4" width="64.5" height="19" rx="2.5" fill="#4caf50"/>
<text x="1217.5" y="629.8" font-size="14.0" fill="#ffffff" fill-opacity="0.85" textLength="47" lengthAdjust="spacingAndGlyphs">1.3273</text>
<rect x="1139.5" y="595" width="66.5" height="19.6" rx="2.5" fill="#f23645"/>
<text x="1144.8" y="609.8" font-size="14.0" fill="#ffffff" fill-opacity="0.95" textLength="56.5" lengthAdjust="spacingAndGlyphs">XRPUSD</text>
<text x="62.5" y="858.8" text-anchor="middle" font-size="14.1" fill="#131722">22</text>
<text x="137.5" y="858.8" text-anchor="middle" font-size="14.1" fill="#131722">25</text>
<text x="211.5" y="858.8" text-anchor="middle" font-size="14.1" fill="#131722">28</text>
<text x="309.5" y="858.8" text-anchor="middle" font-size="14.1" fill="#131722" font-weight="bold">Feb</text>
<text x="383.5" y="858.8" text-anchor="middle" font-size="14.1" fill="#131722">4</text>
<text x="457.5" y="858.8" text-anchor="middle" font-size="14.1" fill="#131722">7</text>
<text x="531.5" y="858.8" text-anchor="middle" font-size="14.1" fill="#131722">10</text>
<text x="605.5" y="858.8" text-anchor="middle" font-size="14.1" fill="#131722">13</text>
<text x="680.5" y="858.8" text-anchor="middle" font-size="14.1" fill="#131722">16</text>
<text x="754.5" y="858.8" text-anchor="middle" font-size="14.1" fill="#131722">19</text>
<text x="828.5" y="858.8" text-anchor="middle" font-size="14.1" fill="#131722">22</text>
<text x="902.5" y="858.8" text-anchor="middle" font-size="14.1" fill="#131722">25</text>
<text x="1001.5" y="858.8" text-anchor="middle" font-size="14.1" fill="#131722" font-weight="bold">Mar</text>
<text x="1075.5" y="858.8" text-anchor="middle" font-size="14.1" fill="#131722">4</text>
<text x="1149.5" y="858.8" text-anchor="middle" font-size="14.1" fill="#131722">7</text>
<text x="12" y="23.6" font-size="14.3" fill="#131722" textLength="509" lengthAdjust="spacingAndGlyphs">ParshwaTurakhiya28 created with TradingView.com, Mar 02, 2026 07:35 UTC</text>
<text x="21.2" y="55.3" font-size="14.3" fill="#131722" fill-opacity="1" textLength="211.3" lengthAdjust="spacingAndGlyphs" xml:space="preserve">XRP / U.S. Dollar · 2h · Coinbase</text><text x="241.6" y="55.3" font-size="14.3" fill="#131722" fill-opacity="1" textLength="10.6" lengthAdjust="spacingAndGlyphs" xml:space="preserve">O</text><text x="252.6" y="55.3" font-size="14.3" fill="#f23645" fill-opacity="0.92" textLength="43.6" lengthAdjust="spacingAndGlyphs" xml:space="preserve">1.3625</text><text x="305.3" y="55.3" font-size="14.3" fill="#131722" fill-opacity="1" textLength="9.8" lengthAdjust="spacingAndGlyphs" xml:space="preserve">H</text><text x="315.8" y="55.3" font-size="14.3" fill="#f23645" fill-opacity="0.92" textLength="43.8" lengthAdjust="spacingAndGlyphs" xml:space="preserve">1.3636</text><text x="368.6" y="55.3" font-size="14.3" fill="#131722" fill-opacity="1" textLength="7.2" lengthAdjust="spacingAndGlyphs" xml:space="preserve">L</text><text x="376.2" y="55.3" font-size="14.3" fill="#f23645" fill-opacity="0.92" textLength="43.2" lengthAdjust="spacingAndGlyphs" xml:space="preserve">1.3377</text><text x="428.6" y="55.3" font-size="14.3" fill="#131722" fill-opacity="1" textLength="10" lengthAdjust="spacingAndGlyphs" xml:space="preserve">C</text><text x="438.8" y="55.3" font-size="14.3" fill="#f23645" fill-opacity="0.92" textLength="43.4" lengthAdjust="spacingAndGlyphs" xml:space="preserve">1.3475</text><text x="491.5" y="55.3" font-size="14.3" fill="#f23645" fill-opacity="0.92" textLength="115.8" lengthAdjust="spacingAndGlyphs" xml:space="preserve">−0.0149 (−1.09%)</text><text x="21.2" y="75" font-size="14.3" fill="#131722" fill-opacity="1" textLength="119.6" lengthAdjust="spacingAndGlyphs" xml:space="preserve">Supertrend (10, 3)</text><text x="149.6" y="75" font-size="14.3" fill="#4caf50" fill-opacity="0.95" textLength="43" lengthAdjust="spacingAndGlyphs" xml:space="preserve">1.3273</text><text x="201.3" y="75" font-size="13" fill="#131722" fill-opacity="1" textLength="9.2" lengthAdjust="spacingAndGlyphs" xml:space="preserve">∅</text><text x="21.2" y="94.8" font-size="14.3" fill="#131722" fill-opacity="1" textLength="135.8" lengthAdjust="spacingAndGlyphs" xml:space="preserve">SAR (0.02, 0.02, 0.2)</text><text x="166.2" y="94.8" font-size="14.3" fill="#2962ff" fill-opacity="0.9" textLength="44.6" lengthAdjust="spacingAndGlyphs" xml:space="preserve">1.3840</text>
<path d="M14.2 895.2H27.8V912.4H21.2V901.6H14.2Z M41.4 895.2H48.8L41.4 912.4H34.3Z" fill="#0e0f13"/><circle cx="34" cy="898.4" r="3.3" fill="#0e0f13"/>
<text x="57" y="912.4" font-size="23.6" font-weight="bold" fill="#0e0f13" textLength="141" lengthAdjust="spacingAndGlyphs">TradingView</text>
</svg>
</body></html>
